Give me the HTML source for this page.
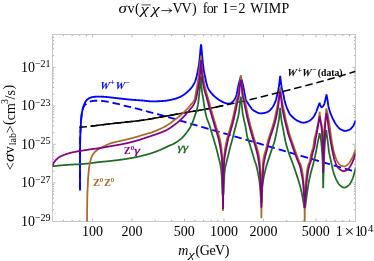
<!DOCTYPE html>
<html><head><meta charset="utf-8"><style>
html,body{margin:0;padding:0;background:#fff;}
body{width:374px;height:261px;overflow:hidden;}
svg{display:block;will-change:transform;font-family:"Liberation Serif",serif;}
</style></head><body>
<svg width="374" height="261" viewBox="0 0 374 261">
<rect width="374" height="261" fill="#fff"/>
<rect x="52.5" y="34.5" width="303.0" height="187.0" fill="none" stroke="#c6c6c6" stroke-width="1"/>
<path d="M92.50 221.0 v-2.4 M92.50 35.0 v2.4 M132.09 221.0 v-2.4 M132.09 35.0 v2.4 M184.41 221.0 v-2.4 M184.41 35.0 v2.4 M224.00 221.0 v-2.4 M224.00 35.0 v2.4 M263.59 221.0 v-2.4 M263.59 35.0 v2.4 M315.91 221.0 v-2.4 M315.91 35.0 v2.4 M53.0 67.30 h2.6 M355.0 67.30 h-2.6 M53.0 105.80 h2.6 M355.0 105.80 h-2.6 M53.0 144.30 h2.6 M355.0 144.30 h-2.6 M53.0 182.80 h2.6 M355.0 182.80 h-2.6" stroke="#aaa" stroke-width="0.8" fill="none"/>
<path d="M63.33 221.0 v-1.1 M63.33 35.0 v1.1 M72.13 221.0 v-1.1 M72.13 35.0 v1.1 M79.76 221.0 v-1.1 M79.76 35.0 v1.1 M86.48 221.0 v-1.1 M86.48 35.0 v1.1 M155.24 221.0 v-1.1 M155.24 35.0 v1.1 M171.67 221.0 v-1.1 M171.67 35.0 v1.1 M194.83 221.0 v-1.1 M194.83 35.0 v1.1 M203.63 221.0 v-1.1 M203.63 35.0 v1.1 M211.26 221.0 v-1.1 M211.26 35.0 v1.1 M217.98 221.0 v-1.1 M217.98 35.0 v1.1 M286.74 221.0 v-1.1 M286.74 35.0 v1.1 M303.17 221.0 v-1.1 M303.17 35.0 v1.1 M326.33 221.0 v-1.1 M326.33 35.0 v1.1 M335.13 221.0 v-1.1 M335.13 35.0 v1.1 M342.76 221.0 v-1.1 M342.76 35.0 v1.1 M349.48 221.0 v-1.1 M349.48 35.0 v1.1 M53.0 55.71 h1.1 M355.0 55.71 h-1.1 M53.0 48.93 h1.1 M355.0 48.93 h-1.1 M53.0 44.12 h1.1 M355.0 44.12 h-1.1 M53.0 40.39 h1.1 M355.0 40.39 h-1.1 M53.0 37.34 h1.1 M355.0 37.34 h-1.1 M53.0 94.21 h1.1 M355.0 94.21 h-1.1 M53.0 87.43 h1.1 M355.0 87.43 h-1.1 M53.0 82.62 h1.1 M355.0 82.62 h-1.1 M53.0 78.89 h1.1 M355.0 78.89 h-1.1 M53.0 75.84 h1.1 M355.0 75.84 h-1.1 M53.0 73.26 h1.1 M355.0 73.26 h-1.1 M53.0 71.03 h1.1 M355.0 71.03 h-1.1 M53.0 69.06 h1.1 M355.0 69.06 h-1.1 M53.0 132.71 h1.1 M355.0 132.71 h-1.1 M53.0 125.93 h1.1 M355.0 125.93 h-1.1 M53.0 121.12 h1.1 M355.0 121.12 h-1.1 M53.0 117.39 h1.1 M355.0 117.39 h-1.1 M53.0 114.34 h1.1 M355.0 114.34 h-1.1 M53.0 111.76 h1.1 M355.0 111.76 h-1.1 M53.0 109.53 h1.1 M355.0 109.53 h-1.1 M53.0 107.56 h1.1 M355.0 107.56 h-1.1 M53.0 171.21 h1.1 M355.0 171.21 h-1.1 M53.0 164.43 h1.1 M355.0 164.43 h-1.1 M53.0 159.62 h1.1 M355.0 159.62 h-1.1 M53.0 155.89 h1.1 M355.0 155.89 h-1.1 M53.0 152.84 h1.1 M355.0 152.84 h-1.1 M53.0 150.26 h1.1 M355.0 150.26 h-1.1 M53.0 148.03 h1.1 M355.0 148.03 h-1.1 M53.0 146.06 h1.1 M355.0 146.06 h-1.1 M53.0 209.71 h1.1 M355.0 209.71 h-1.1 M53.0 202.93 h1.1 M355.0 202.93 h-1.1 M53.0 198.12 h1.1 M355.0 198.12 h-1.1 M53.0 194.39 h1.1 M355.0 194.39 h-1.1 M53.0 191.34 h1.1 M355.0 191.34 h-1.1 M53.0 188.76 h1.1 M355.0 188.76 h-1.1 M53.0 186.53 h1.1 M355.0 186.53 h-1.1 M53.0 184.56 h1.1 M355.0 184.56 h-1.1" stroke="#6a6a6a" stroke-width="0.6" fill="none"/>
<clipPath id="c"><rect x="52.5" y="34.5" width="303.0" height="187.0"/></clipPath>
<g clip-path="url(#c)" fill="none" stroke-linejoin="miter" stroke-miterlimit="3">
<path d="M80.00 190.30 L80.00 189.78 L80.00 189.27 L80.00 188.75 L80.00 188.23 L80.00 187.72 L80.00 187.20 L80.00 186.68 L80.00 186.17 L80.00 185.65 L80.00 185.14 L80.00 184.62 L80.00 184.10 L80.00 183.59 L80.00 183.07 L80.00 182.55 L80.00 182.04 L80.00 181.52 L80.00 181.00 L80.00 180.49 L80.00 179.97 L80.00 179.45 L80.00 178.94 L80.00 178.42 L80.00 177.90 L80.00 177.39 L80.00 176.87 L80.00 176.36 L80.00 175.84 L80.00 175.32 L80.00 174.81 L80.00 174.29 L80.00 173.77 L80.00 173.26 L80.00 172.74 L80.00 172.22 L80.00 171.71 L80.00 171.19 L80.00 170.67 L80.00 170.16 L80.00 169.64 L80.00 169.13 L80.00 168.61 L80.00 168.09 L80.00 167.58 L80.00 167.06 L80.00 166.54 L80.00 166.03 L80.00 165.51 L80.00 164.99 L80.00 164.48 L80.00 163.96 L80.00 163.44 L80.00 162.93 L80.00 162.41 L80.00 161.89 L80.00 161.38 L80.00 160.86 L80.00 160.35 L80.00 159.83 L80.00 159.31 L80.00 158.80 L80.00 158.28 L80.00 157.76 L80.00 157.25 L80.01 156.73 L80.01 156.21 L80.01 155.70 L80.01 155.18 L80.02 154.66 L80.02 154.15 L80.02 153.63 L80.03 153.12 L80.03 152.60 L80.04 152.08 L80.04 151.57 L80.04 151.05 L80.05 150.53 L80.05 150.02 L80.06 149.50 L80.06 148.98 L80.07 148.47 L80.07 147.95 L80.08 147.43 L80.08 146.92 L80.09 146.40 L80.09 145.89 L80.10 145.37 L80.10 144.85 L80.11 144.34 L80.11 143.82 L80.12 143.30 L80.12 142.79 L80.13 142.27 L80.14 141.75 L80.14 141.24 L80.15 140.72 L80.16 140.20 L80.17 139.69 L80.18 139.17 L80.19 138.66 L80.20 138.14 L80.21 137.62 L80.22 137.11 L80.24 136.59 L80.25 136.07 L80.27 135.56 L80.29 135.04 L80.31 134.53 L80.33 134.01 L80.36 133.49 L80.38 132.98 L80.41 132.46 L80.43 131.95 L80.46 131.43 L80.48 130.91 L80.51 130.40 L80.54 129.88 L80.57 129.37 L80.60 128.85 L80.63 128.34 L80.65 127.82 L80.68 127.30 L80.71 126.79 L80.74 126.27 L80.77 125.76 L80.80 125.24 L80.83 124.73 L80.85 124.21 L80.88 123.69 L80.92 123.18 L80.95 122.66 L80.98 122.14 L81.01 121.63 L81.05 121.11 L81.08 120.60 L81.12 120.08 L81.16 119.57 L81.20 119.05 L81.24 118.54 L81.29 118.02 L81.33 117.51 L81.38 117.00 L81.43 116.49 L81.49 115.97 L81.55 115.46 L81.62 114.95 L81.69 114.43 L81.76 113.92 L81.84 113.41 L81.93 112.90 L82.02 112.39 L82.11 111.88 L82.21 111.37 L82.30 110.87 L82.41 110.36 L82.52 109.86 L82.63 109.36 L82.76 108.86 L82.90 108.35 L83.04 107.85 L83.19 107.36 L83.34 106.86 L83.51 106.37 L83.68 105.88 L83.85 105.40 L84.03 104.92 L84.22 104.44 L84.42 103.95 L84.63 103.47 L84.85 102.99 L85.08 102.51 L85.32 102.05 L85.58 101.60 L85.86 101.18 L86.14 100.77 L86.46 100.39 L86.81 100.01 L87.18 99.64 L87.59 99.29 L88.01 98.97 L88.44 98.67 L88.88 98.41 L89.32 98.18 L89.79 97.96 L90.27 97.75 L90.76 97.56 L91.26 97.40 L91.76 97.27 L92.26 97.17 L92.76 97.08 L93.26 96.99 L93.77 96.91 L94.28 96.84 L94.79 96.77 L95.30 96.71 L95.82 96.67 L96.35 96.63 L96.87 96.61 L97.40 96.60 L97.65 96.60 L97.90 96.60 L98.15 96.60 L98.40 96.61 L98.65 96.61 L98.90 96.61 L99.15 96.62 L99.40 96.63 L99.65 96.63 L99.90 96.64 L100.15 96.65 L100.40 96.65 L100.65 96.66 L100.91 96.67 L101.16 96.68 L101.41 96.69 L101.66 96.70 L101.91 96.71 L102.16 96.72 L102.41 96.73 L102.66 96.74 L102.91 96.75 L103.16 96.77 L103.41 96.78 L103.66 96.79 L103.91 96.80 L104.16 96.81 L104.41 96.83 L104.66 96.84 L104.91 96.86 L105.16 96.88 L105.41 96.90 L105.66 96.92 L105.91 96.94 L106.16 96.96 L106.41 96.99 L106.66 97.01 L106.91 97.04 L107.16 97.06 L107.41 97.09 L107.66 97.11 L107.92 97.14 L108.17 97.17 L108.42 97.20 L108.67 97.22 L108.92 97.25 L109.17 97.28 L109.42 97.31 L109.67 97.33 L109.92 97.36 L110.17 97.39 L110.42 97.41 L110.67 97.44 L110.92 97.46 L111.17 97.49 L111.42 97.52 L111.67 97.55 L111.92 97.57 L112.17 97.60 L112.42 97.63 L112.67 97.66 L112.92 97.69 L113.17 97.72 L113.42 97.75 L113.67 97.77 L113.92 97.80 L114.17 97.83 L114.42 97.86 L114.68 97.89 L114.93 97.92 L115.18 97.95 L115.43 97.98 L115.68 98.01 L115.93 98.04 L116.18 98.07 L116.43 98.10 L116.68 98.13 L116.93 98.16 L117.18 98.19 L117.43 98.22 L117.68 98.25 L117.93 98.28 L118.18 98.31 L118.43 98.34 L118.68 98.37 L118.93 98.40 L119.18 98.43 L119.43 98.46 L119.68 98.49 L119.93 98.52 L120.18 98.54 L120.43 98.57 L120.68 98.60 L120.93 98.63 L121.18 98.65 L121.43 98.68 L121.69 98.71 L121.94 98.73 L122.19 98.76 L122.44 98.79 L122.69 98.82 L122.94 98.84 L123.19 98.87 L123.44 98.90 L123.69 98.93 L123.94 98.95 L124.19 98.98 L124.44 99.01 L124.69 99.04 L124.94 99.06 L125.19 99.09 L125.44 99.12 L125.69 99.14 L125.94 99.17 L126.19 99.20 L126.44 99.22 L126.69 99.25 L126.94 99.27 L127.19 99.30 L127.44 99.32 L127.69 99.35 L127.94 99.38 L128.19 99.40 L128.44 99.43 L128.70 99.45 L128.95 99.47 L129.20 99.50 L129.45 99.52 L129.70 99.55 L129.95 99.57 L130.20 99.59 L130.45 99.62 L130.70 99.64 L130.95 99.66 L131.20 99.68 L131.45 99.70 L131.70 99.73 L131.95 99.75 L132.20 99.77 L132.45 99.79 L132.70 99.81 L132.95 99.83 L133.20 99.85 L133.45 99.87 L133.70 99.89 L133.95 99.90 L134.20 99.92 L134.45 99.94 L134.70 99.96 L134.95 99.98 L135.20 100.00 L135.46 100.01 L135.71 100.03 L135.96 100.05 L136.21 100.07 L136.46 100.08 L136.71 100.10 L136.96 100.12 L137.21 100.14 L137.46 100.15 L137.71 100.17 L137.96 100.19 L138.21 100.21 L138.46 100.22 L138.71 100.24 L138.96 100.26 L139.21 100.28 L139.46 100.29 L139.71 100.31 L139.96 100.33 L140.21 100.35 L140.46 100.37 L140.71 100.39 L140.96 100.40 L141.21 100.42 L141.46 100.44 L141.71 100.46 L141.96 100.48 L142.21 100.50 L142.47 100.52 L142.72 100.54 L142.97 100.57 L143.22 100.59 L143.47 100.61 L143.72 100.64 L143.97 100.67 L144.22 100.69 L144.47 100.72 L144.72 100.75 L144.97 100.78 L145.22 100.80 L145.47 100.83 L145.72 100.86 L145.97 100.89 L146.22 100.92 L146.47 100.95 L146.72 100.98 L146.97 101.01 L147.22 101.03 L147.47 101.06 L147.72 101.09 L147.97 101.12 L148.22 101.14 L148.47 101.17 L148.72 101.19 L148.97 101.21 L149.23 101.24 L149.48 101.26 L149.73 101.28 L149.98 101.30 L150.23 101.31 L150.48 101.33 L150.73 101.35 L150.98 101.36 L151.23 101.37 L151.48 101.38 L151.73 101.39 L151.98 101.39 L152.23 101.40 L152.48 101.40 L152.73 101.40 L152.98 101.40 L153.23 101.40 L153.48 101.40 L153.73 101.39 L153.98 101.39 L154.23 101.39 L154.48 101.38 L154.73 101.38 L154.98 101.37 L155.23 101.37 L155.48 101.36 L155.73 101.35 L155.98 101.35 L156.24 101.34 L156.49 101.33 L156.74 101.32 L156.99 101.31 L157.24 101.30 L157.49 101.29 L157.74 101.28 L157.99 101.27 L158.24 101.26 L158.49 101.24 L158.74 101.23 L158.99 101.22 L159.24 101.21 L159.49 101.19 L159.74 101.18 L159.99 101.16 L160.24 101.15 L160.49 101.13 L160.74 101.12 L160.99 101.10 L161.24 101.08 L161.49 101.07 L161.74 101.05 L161.99 101.03 L162.24 101.02 L162.49 101.00 L162.74 100.98 L162.99 100.96 L163.25 100.94 L163.50 100.93 L163.75 100.91 L164.00 100.89 L164.25 100.87 L164.50 100.85 L164.75 100.83 L165.00 100.81 L165.25 100.79 L165.50 100.76 L165.75 100.74 L166.00 100.71 L166.25 100.67 L166.50 100.64 L166.75 100.60 L167.00 100.56 L167.25 100.52 L167.50 100.48 L167.75 100.43 L168.00 100.39 L168.25 100.34 L168.50 100.29 L168.75 100.24 L169.00 100.20 L169.25 100.15 L169.50 100.10 L169.75 100.05 L170.01 100.00 L170.26 99.95 L170.51 99.90 L170.76 99.85 L171.01 99.80 L171.26 99.75 L171.51 99.69 L171.76 99.64 L172.01 99.58 L172.26 99.52 L172.51 99.47 L172.76 99.41 L173.01 99.35 L173.26 99.29 L173.51 99.22 L173.76 99.16 L174.01 99.09 L174.26 99.02 L174.51 98.96 L174.76 98.89 L175.01 98.81 L175.26 98.74 L175.51 98.67 L175.76 98.59 L176.01 98.51 L176.26 98.43 L176.51 98.34 L176.76 98.26 L177.02 98.17 L177.27 98.08 L177.52 97.99 L177.77 97.89 L178.02 97.79 L178.27 97.69 L178.52 97.59 L178.77 97.49 L179.02 97.38 L179.27 97.27 L179.52 97.16 L179.77 97.05 L180.02 96.93 L180.27 96.81 L180.52 96.69 L180.77 96.56 L181.02 96.44 L181.27 96.30 L181.52 96.17 L181.77 96.03 L182.02 95.88 L182.27 95.73 L182.52 95.58 L182.77 95.42 L183.02 95.26 L183.27 95.09 L183.52 94.92 L183.78 94.75 L184.03 94.57 L184.28 94.39 L184.53 94.21 L184.78 94.02 L185.03 93.84 L185.28 93.65 L185.53 93.45 L185.78 93.26 L186.03 93.06 L186.28 92.86 L186.53 92.65 L186.78 92.44 L187.03 92.23 L187.28 92.02 L187.53 91.80 L187.78 91.57 L188.03 91.34 L188.28 91.11 L188.53 90.87 L188.78 90.63 L189.03 90.38 L189.28 90.12 L189.53 89.86 L189.78 89.59 L190.03 89.32 L190.28 89.04 L190.53 88.75 L190.79 88.45 L191.04 88.15 L191.29 87.84 L191.54 87.53 L191.79 87.20 L192.04 86.86 L192.29 86.52 L192.54 86.16 L192.79 85.78 L193.04 85.39 L193.29 84.98 L193.54 84.56 L193.79 84.11 L194.04 83.64 L194.29 83.15 L194.54 82.64 L194.79 82.10 L195.04 81.51 L195.29 80.86 L195.54 80.16 L195.79 79.40 L196.04 78.60 L196.29 77.74 L196.54 76.84 L196.79 75.83 L197.04 74.72 L197.29 73.51 L197.54 72.25 L197.80 70.95 L198.05 69.64 L198.30 68.30 L198.55 66.90 L198.80 65.37 L199.05 63.66 L199.30 61.70 L199.55 59.50 L199.80 57.12 L200.05 54.59 L200.30 51.60 L200.55 48.55 L200.80 46.14 L201.05 44.30 L201.30 46.14 L201.55 48.55 L201.80 51.58 L202.06 54.61 L202.31 57.28 L202.56 59.84 L202.81 62.26 L203.06 64.53 L203.31 66.72 L203.56 68.75 L203.81 70.49 L204.07 71.95 L204.32 73.25 L204.57 74.44 L204.82 75.59 L205.07 76.76 L205.32 77.97 L205.57 79.19 L205.82 80.40 L206.08 81.55 L206.33 82.62 L206.58 83.59 L206.83 84.50 L207.08 85.38 L207.33 86.20 L207.58 86.95 L207.83 87.62 L208.09 88.18 L208.34 88.70 L208.59 89.18 L208.84 89.63 L209.09 90.05 L209.34 90.45 L209.59 90.82 L209.84 91.18 L210.10 91.52 L210.35 91.85 L210.60 92.17 L210.85 92.49 L211.10 92.80 L211.35 93.10 L211.60 93.39 L211.85 93.68 L212.11 93.96 L212.36 94.23 L212.61 94.50 L212.86 94.76 L213.11 95.01 L213.36 95.27 L213.61 95.51 L213.86 95.75 L214.12 95.98 L214.37 96.22 L214.62 96.44 L214.87 96.66 L215.12 96.88 L215.37 97.10 L215.62 97.31 L215.87 97.52 L216.13 97.72 L216.38 97.92 L216.63 98.12 L216.88 98.32 L217.13 98.52 L217.38 98.71 L217.63 98.90 L217.88 99.08 L218.14 99.26 L218.39 99.44 L218.64 99.62 L218.89 99.79 L219.14 99.96 L219.39 100.12 L219.64 100.29 L219.89 100.44 L220.15 100.60 L220.40 100.75 L220.65 100.89 L220.90 101.04 L221.15 101.17 L221.40 101.31 L221.65 101.44 L221.91 101.57 L222.16 101.69 L222.41 101.82 L222.66 101.94 L222.91 102.06 L223.16 102.17 L223.41 102.28 L223.66 102.39 L223.92 102.49 L224.17 102.59 L224.42 102.69 L224.67 102.78 L224.92 102.87 L225.17 102.96 L225.42 103.05 L225.67 103.15 L225.93 103.24 L226.18 103.33 L226.43 103.41 L226.68 103.48 L226.93 103.54 L227.18 103.58 L227.43 103.60 L227.68 103.60 L227.94 103.60 L228.19 103.59 L228.44 103.59 L228.69 103.58 L228.94 103.57 L229.19 103.55 L229.44 103.54 L229.69 103.52 L229.95 103.50 L230.20 103.47 L230.45 103.39 L230.70 103.27 L230.95 103.11 L231.20 102.93 L231.45 102.73 L231.70 102.51 L231.96 102.29 L232.21 102.07 L232.46 101.85 L232.71 101.62 L232.96 101.38 L233.21 101.11 L233.46 100.83 L233.71 100.53 L233.97 100.20 L234.22 99.86 L234.47 99.50 L234.72 99.11 L234.97 98.69 L235.22 98.23 L235.47 97.72 L235.72 97.17 L235.98 96.56 L236.23 95.87 L236.48 95.05 L236.73 94.11 L236.98 93.08 L237.23 91.84 L237.48 90.37 L237.73 88.88 L237.99 87.58 L238.24 86.41 L238.49 85.31 L238.74 84.25 L238.99 83.22 L239.24 82.23 L239.49 81.27 L239.74 80.33 L240.00 79.42 L240.25 78.52 L240.50 77.65 L240.75 76.80 L241.00 77.65 L241.25 78.52 L241.50 79.42 L241.76 80.33 L242.01 81.27 L242.26 82.23 L242.51 83.22 L242.76 84.25 L243.01 85.31 L243.26 86.41 L243.51 87.58 L243.77 88.86 L244.02 90.27 L244.27 91.72 L244.52 93.10 L244.77 94.39 L245.02 95.63 L245.27 96.86 L245.52 98.17 L245.78 99.23 L246.03 99.91 L246.28 100.48 L246.53 100.97 L246.78 101.41 L247.03 101.81 L247.28 102.19 L247.53 102.59 L247.79 103.01 L248.04 103.41 L248.29 103.81 L248.54 104.19 L248.79 104.57 L249.04 104.93 L249.29 105.30 L249.54 105.65 L249.80 106.01 L250.05 106.37 L250.30 106.73 L250.55 107.10 L250.80 107.47 L251.05 107.83 L251.30 108.18 L251.55 108.50 L251.81 108.80 L252.06 109.06 L252.31 109.30 L252.56 109.53 L252.81 109.75 L253.06 109.96 L253.31 110.15 L253.56 110.34 L253.82 110.52 L254.07 110.68 L254.32 110.84 L254.57 110.98 L254.82 111.12 L255.07 111.27 L255.32 111.41 L255.58 111.55 L255.83 111.69 L256.08 111.84 L256.33 111.98 L256.58 112.11 L256.83 112.25 L257.08 112.38 L257.33 112.50 L257.59 112.63 L257.84 112.74 L258.09 112.85 L258.34 112.95 L258.59 113.04 L258.84 113.12 L259.09 113.20 L259.34 113.26 L259.60 113.31 L259.85 113.35 L260.10 113.38 L260.35 113.40 L260.60 113.40 L260.85 113.40 L261.10 113.39 L261.35 113.38 L261.61 113.36 L261.86 113.34 L262.11 113.32 L262.36 113.29 L262.61 113.26 L262.86 113.22 L263.11 113.19 L263.36 113.15 L263.62 113.11 L263.87 113.06 L264.12 113.01 L264.37 112.96 L264.62 112.91 L264.87 112.86 L265.12 112.80 L265.37 112.75 L265.63 112.69 L265.88 112.63 L266.13 112.57 L266.38 112.49 L266.63 112.40 L266.88 112.29 L267.13 112.17 L267.39 112.04 L267.64 111.90 L267.89 111.75 L268.14 111.59 L268.39 111.42 L268.64 111.25 L268.89 111.08 L269.14 110.90 L269.40 110.70 L269.65 110.49 L269.90 110.27 L270.15 110.03 L270.40 109.78 L270.65 109.52 L270.90 109.24 L271.15 108.95 L271.41 108.65 L271.66 108.33 L271.91 108.01 L272.16 107.67 L272.41 107.33 L272.66 106.97 L272.91 106.59 L273.16 106.19 L273.42 105.77 L273.67 105.33 L273.92 104.86 L274.17 104.37 L274.42 103.85 L274.67 103.30 L274.92 102.72 L275.17 102.11 L275.43 101.47 L275.68 100.78 L275.93 100.00 L276.18 99.10 L276.43 98.12 L276.68 97.08 L276.93 96.01 L277.18 94.92 L277.44 93.85 L277.69 92.80 L277.94 91.74 L278.19 90.63 L278.44 89.41 L278.69 88.04 L278.94 86.40 L279.19 84.48 L279.45 82.44 L279.70 80.37 L279.95 78.19 L280.20 75.90 L280.45 78.24 L280.70 80.42 L280.95 82.40 L281.20 84.26 L281.45 85.98 L281.71 87.50 L281.96 88.76 L282.21 89.83 L282.46 90.79 L282.71 91.70 L282.96 92.62 L283.21 93.62 L283.46 94.76 L283.71 96.04 L283.96 97.39 L284.22 98.73 L284.47 99.98 L284.72 101.07 L284.97 102.02 L285.22 102.91 L285.47 103.75 L285.72 104.54 L285.97 105.29 L286.22 106.01 L286.47 106.70 L286.72 107.38 L286.98 108.02 L287.23 108.65 L287.48 109.25 L287.73 109.83 L287.98 110.40 L288.23 110.94 L288.48 111.47 L288.73 112.00 L288.98 112.51 L289.23 113.00 L289.49 113.47 L289.74 113.90 L289.99 114.28 L290.24 114.62 L290.49 114.93 L290.74 115.21 L290.99 115.48 L291.24 115.74 L291.49 115.99 L291.74 116.24 L291.99 116.50 L292.25 116.75 L292.50 116.99 L292.75 117.23 L293.00 117.47 L293.25 117.69 L293.50 117.92 L293.75 118.13 L294.00 118.34 L294.25 118.54 L294.50 118.74 L294.76 118.94 L295.01 119.13 L295.26 119.32 L295.51 119.51 L295.76 119.69 L296.01 119.86 L296.26 120.03 L296.51 120.18 L296.76 120.33 L297.01 120.46 L297.26 120.58 L297.52 120.70 L297.77 120.82 L298.02 120.95 L298.27 121.07 L298.52 121.19 L298.77 121.31 L299.02 121.43 L299.27 121.54 L299.52 121.66 L299.77 121.77 L300.03 121.87 L300.28 121.97 L300.53 122.07 L300.78 122.16 L301.03 122.25 L301.28 122.33 L301.53 122.40 L301.78 122.47 L302.03 122.53 L302.28 122.58 L302.54 122.62 L302.79 122.66 L303.04 122.68 L303.29 122.70 L303.54 122.70 L303.79 122.69 L304.04 122.68 L304.29 122.65 L304.54 122.62 L304.79 122.58 L305.04 122.52 L305.30 122.47 L305.55 122.40 L305.80 122.33 L306.05 122.25 L306.30 122.17 L306.55 122.08 L306.80 121.99 L307.05 121.90 L307.30 121.80 L307.55 121.69 L307.81 121.59 L308.06 121.48 L308.31 121.37 L308.56 121.25 L308.81 121.14 L309.06 121.02 L309.31 120.89 L309.56 120.75 L309.81 120.59 L310.06 120.41 L310.31 120.23 L310.57 120.03 L310.82 119.82 L311.07 119.59 L311.32 119.36 L311.57 119.11 L311.82 118.86 L312.07 118.59 L312.32 118.32 L312.57 118.04 L312.82 117.75 L313.08 117.45 L313.33 117.14 L313.58 116.81 L313.83 116.44 L314.08 116.04 L314.33 115.61 L314.58 115.17 L314.83 114.70 L315.08 114.21 L315.33 113.70 L315.58 113.18 L315.84 112.65 L316.09 112.11 L316.34 111.52 L316.59 110.88 L316.84 110.21 L317.09 109.52 L317.34 108.81 L317.59 108.11 L317.84 107.42 L318.09 106.75 L318.35 106.09 L318.60 105.43 L318.85 104.77 L319.10 104.11 L319.35 103.46 L319.60 102.80 L319.86 103.71 L320.11 104.52 L320.37 105.15 L320.62 105.71 L320.88 106.25 L321.13 106.71 L321.39 107.04 L321.64 107.19 L321.90 107.17 L322.16 107.06 L322.41 106.87 L322.67 106.62 L322.92 106.32 L323.18 105.97 L323.43 105.58 L323.69 105.18 L323.94 104.73 L324.20 104.10 L324.46 103.31 L324.71 102.41 L324.97 101.42 L325.22 100.41 L325.48 99.39 L325.73 98.29 L325.99 97.10 L326.24 95.83 L326.50 94.50 L326.75 95.77 L327.00 97.11 L327.25 98.53 L327.50 100.01 L327.75 101.69 L328.00 103.50 L328.25 105.19 L328.50 106.50 L328.75 107.61 L329.00 108.60 L329.25 109.51 L329.51 110.35 L329.76 111.16 L330.01 111.93 L330.26 112.65 L330.51 113.33 L330.76 113.98 L331.01 114.62 L331.26 115.24 L331.51 115.84 L331.76 116.42 L332.01 116.98 L332.26 117.53 L332.51 118.06 L332.76 118.57 L333.01 119.07 L333.26 119.56 L333.51 120.04 L333.76 120.50 L334.01 120.97 L334.26 121.45 L334.51 121.91 L334.76 122.38 L335.01 122.83 L335.26 123.27 L335.52 123.69 L335.77 124.09 L336.02 124.47 L336.27 124.82 L336.52 125.15 L336.77 125.47 L337.02 125.78 L337.27 126.09 L337.52 126.40 L337.77 126.69 L338.02 126.98 L338.27 127.26 L338.52 127.53 L338.77 127.79 L339.02 128.04 L339.27 128.27 L339.52 128.49 L339.77 128.69 L340.02 128.88 L340.27 129.05 L340.52 129.20 L340.77 129.34 L341.02 129.47 L341.28 129.60 L341.53 129.72 L341.78 129.85 L342.03 129.97 L342.28 130.09 L342.53 130.20 L342.78 130.31 L343.03 130.41 L343.28 130.50 L343.53 130.59 L343.78 130.67 L344.03 130.73 L344.28 130.79 L344.53 130.84 L344.78 130.87 L345.03 130.89 L345.28 130.90 L345.53 130.89 L345.78 130.88 L346.03 130.85 L346.28 130.81 L346.53 130.76 L346.78 130.70 L347.04 130.63 L347.29 130.56 L347.54 130.48 L347.79 130.39 L348.04 130.29 L348.29 130.19 L348.54 130.09 L348.79 129.98 L349.04 129.86 L349.29 129.75 L349.54 129.63 L349.79 129.50 L350.04 129.35 L350.29 129.17 L350.54 128.97 L350.79 128.75 L351.04 128.51 L351.29 128.25 L351.54 127.98 L351.79 127.69 L352.04 127.38 L352.29 127.07 L352.54 126.74 L352.79 126.41 L353.05 126.04 L353.30 125.62 L353.55 125.17 L353.80 124.67 L354.05 124.15 L354.30 123.62 L354.55 123.07 L354.80 122.53 L355.05 122.00 L355.30 121.45 L355.55 120.88 L355.80 120.30" stroke="#0000ff" stroke-width="1.85" />
<path d="M80.00 190.30 L80.00 189.80 L80.00 189.29 L80.00 188.79 L80.00 188.28 L80.00 187.78 L80.00 187.28 L80.00 186.77 L80.00 186.27 L80.00 185.77 L80.00 185.26 L80.00 184.76 L80.00 184.25 L80.00 183.75 L80.00 183.25 L80.00 182.74 L80.00 182.24 L80.00 181.73 L80.00 181.23 L80.00 180.73 L80.00 180.22 L80.00 179.72 L80.00 179.22 L80.00 178.71 L80.00 178.21 L80.00 177.70 L80.00 177.20 L80.00 176.70 L80.00 176.19 L80.00 175.69 L80.00 175.18 L80.00 174.68 L80.00 174.18 L80.00 173.67 L80.00 173.17 L80.00 172.67 L80.00 172.16 L80.00 171.66 L80.00 171.15 L80.00 170.65 L80.00 170.15 L80.00 169.64 L80.00 169.14 L80.00 168.63 L80.00 168.13 L80.00 167.63 L80.00 167.12 L80.00 166.62 L80.00 166.12 L80.00 165.61 L80.00 165.11 L80.00 164.60 L80.00 164.10 L80.00 163.60 L80.00 163.09 L80.00 162.59 L80.00 162.08 L80.00 161.58 L80.00 161.08 L80.00 160.57 L80.00 160.07 L80.00 159.57 L80.00 159.06 L80.00 158.56 L80.00 158.05 L80.00 157.55 L80.01 157.05 L80.01 156.54 L80.01 156.04 L80.01 155.53 L80.02 155.03 L80.02 154.53 L80.02 154.02 L80.02 153.52 L80.03 153.01 L80.03 152.51 L80.04 152.01 L80.04 151.50 L80.04 151.00 L80.05 150.50 L80.05 149.99 L80.06 149.49 L80.06 148.98 L80.07 148.48 L80.07 147.98 L80.08 147.47 L80.08 146.97 L80.09 146.47 L80.09 145.96 L80.10 145.46 L80.10 144.95 L80.11 144.45 L80.11 143.95 L80.12 143.44 L80.12 142.94 L80.13 142.43 L80.13 141.93 L80.14 141.43 L80.15 140.92 L80.16 140.42 L80.16 139.92 L80.17 139.41 L80.18 138.91 L80.19 138.40 L80.20 137.90 L80.21 137.40 L80.23 136.89 L80.24 136.39 L80.26 135.89 L80.28 135.38 L80.30 134.88 L80.32 134.38 L80.34 133.87 L80.36 133.37 L80.39 132.87 L80.41 132.36 L80.44 131.86 L80.46 131.36 L80.49 130.85 L80.52 130.35 L80.54 129.85 L80.57 129.34 L80.60 128.84 L80.63 128.34 L80.65 127.83 L80.68 127.33 L80.71 126.83 L80.74 126.32 L80.76 125.82 L80.79 125.32 L80.82 124.81 L80.85 124.31 L80.88 123.81 L80.91 123.30 L80.94 122.80 L80.97 122.30 L81.00 121.79 L81.03 121.29 L81.07 120.79 L81.10 120.28 L81.14 119.78 L81.18 119.28 L81.22 118.78 L81.26 118.28 L81.31 117.77 L81.35 117.27 L81.40 116.77 L81.46 116.27 L81.51 115.77 L81.58 115.27 L81.64 114.77 L81.72 114.27 L81.79 113.77 L81.87 113.27 L81.96 112.77 L82.05 112.28 L82.15 111.78 L82.25 111.29 L82.36 110.80 L82.47 110.31 L82.59 109.82 L82.72 109.31 L82.86 108.81 L83.01 108.31 L83.18 107.82 L83.36 107.34 L83.55 106.88 L83.76 106.44 L83.98 106.03 L84.24 105.64 L84.56 105.27 L84.92 104.91 L85.31 104.57 L85.72 104.24 L86.13 103.92 L86.55 103.61 L86.95 103.32 L87.36 103.02 L87.78 102.72 L88.21 102.43 L88.65 102.16 L89.09 101.92 L89.55 101.72 L90.01 101.57 L90.48 101.43 L90.96 101.30 L91.45 101.18 L91.95 101.07 L92.46 100.97 L92.96 100.89 L93.47 100.84 L93.97 100.80 L94.47 100.78 L94.97 100.76 L95.47 100.74 L95.98 100.73 L96.48 100.72 L96.99 100.71 L97.49 100.70 L98.00 100.70 L98.25 100.71 L98.50 100.72 L98.75 100.73 L99.00 100.75 L99.25 100.76 L99.50 100.78 L99.75 100.79 L100.00 100.81 L100.25 100.83 L100.50 100.85 L100.75 100.86 L101.00 100.88 L101.25 100.90 L101.50 100.93 L101.75 100.95 L102.00 100.97 L102.25 101.00 L102.50 101.02 L102.75 101.05 L103.00 101.07 L103.25 101.10 L103.50 101.13 L103.75 101.16 L104.00 101.19 L104.25 101.22 L104.50 101.26 L104.75 101.29 L105.00 101.32 L105.25 101.36 L105.50 101.39 L105.75 101.43 L106.00 101.47 L106.25 101.51 L106.50 101.55 L106.75 101.58 L107.00 101.62 L107.25 101.66 L107.50 101.71 L107.75 101.75 L108.00 101.79 L108.25 101.83 L108.50 101.88 L108.75 101.92 L109.00 101.96 L109.25 102.01 L109.50 102.06 L109.75 102.11 L110.00 102.16 L110.25 102.22 L110.50 102.28 L110.75 102.34 L111.00 102.40 L111.25 102.46 L111.50 102.53 L111.75 102.59 L112.00 102.66 L112.25 102.72 L112.50 102.78 L112.75 102.84 L113.00 102.90 L113.25 102.96 L113.50 103.01 L113.75 103.07 L114.00 103.12 L114.25 103.18 L114.50 103.23 L114.75 103.28 L115.00 103.33 L115.25 103.39 L115.50 103.44 L115.75 103.49 L116.00 103.54 L116.25 103.59 L116.50 103.64 L116.75 103.70 L117.00 103.75 L117.25 103.80 L117.50 103.85 L117.75 103.91 L118.00 103.96 L118.25 104.01 L118.50 104.07 L118.75 104.12 L119.00 104.18 L119.25 104.24 L119.50 104.30 L119.75 104.36 L120.00 104.42 L120.25 104.48 L120.50 104.55 L120.75 104.61 L121.00 104.68 L121.25 104.76 L121.50 104.84 L121.75 104.92 L122.00 105.00 L122.25 105.08 L122.50 105.17 L122.75 105.25 L123.00 105.33 L123.25 105.41 L123.50 105.49 L123.75 105.56 L124.00 105.63 L124.25 105.69 L124.50 105.76 L124.75 105.82 L125.00 105.88 L125.25 105.94 L125.50 106.00 L125.75 106.05 L126.00 106.11 L126.25 106.17 L126.50 106.22 L126.75 106.28 L127.00 106.33 L127.25 106.38 L127.50 106.44 L127.75 106.49 L128.00 106.54 L128.25 106.59 L128.50 106.64 L128.75 106.69 L129.00 106.75 L129.25 106.80 L129.50 106.85 L129.75 106.90 L130.00 106.95 L130.25 107.01 L130.50 107.06 L130.75 107.12 L131.00 107.17 L131.25 107.23 L131.50 107.28 L131.75 107.34 L132.00 107.40 L132.25 107.46 L132.50 107.52 L132.75 107.58 L133.00 107.64 L133.25 107.70 L133.50 107.77 L133.75 107.83 L134.00 107.89 L134.25 107.96 L134.50 108.02 L134.75 108.08 L135.00 108.15 L135.25 108.21 L135.50 108.28 L135.75 108.34 L136.00 108.41 L136.25 108.47 L136.50 108.54 L136.75 108.60 L137.00 108.67 L137.25 108.73 L137.50 108.80 L137.75 108.86 L138.00 108.93 L138.25 109.00 L138.50 109.06 L138.75 109.13 L139.00 109.19 L139.25 109.26 L139.50 109.33 L139.75 109.40 L140.00 109.46 L140.25 109.53 L140.50 109.60 L140.75 109.67 L141.00 109.73 L141.25 109.80 L141.50 109.87 L141.75 109.94 L142.00 110.01 L142.25 110.08 L142.50 110.14 L142.75 110.21 L143.00 110.28 L143.25 110.35 L143.50 110.43 L143.75 110.50 L144.00 110.57 L144.25 110.64 L144.50 110.72 L144.75 110.79 L145.00 110.86 L145.25 110.93 L145.50 111.00 L145.75 111.07 L146.00 111.14 L146.25 111.21 L146.50 111.28 L146.75 111.35 L147.00 111.42 L147.25 111.49 L147.50 111.55 L147.75 111.62 L148.00 111.69 L148.25 111.75 L148.50 111.82 L148.75 111.88 L149.00 111.95 L149.25 112.02 L149.50 112.08 L149.75 112.15 L150.00 112.21 L150.25 112.28 L150.50 112.34 L150.75 112.40 L151.00 112.47 L151.25 112.53 L151.50 112.60 L151.75 112.66 L152.00 112.72 L152.25 112.79 L152.50 112.85 L152.75 112.92 L153.00 112.98 L153.25 113.04 L153.50 113.11 L153.75 113.17 L154.00 113.23 L154.25 113.30 L154.50 113.36 L154.75 113.42 L155.00 113.49 L155.25 113.55 L155.50 113.62 L155.75 113.68 L156.00 113.74 L156.25 113.81 L156.50 113.87 L156.75 113.94 L157.00 114.00 L157.25 114.07 L157.50 114.13 L157.75 114.20 L158.00 114.26 L158.25 114.33 L158.50 114.40 L158.75 114.46 L159.00 114.53 L159.25 114.60 L159.50 114.66 L159.75 114.73 L160.00 114.80 L160.25 114.87 L160.50 114.94 L160.75 115.01 L161.00 115.07 L161.25 115.14 L161.50 115.21 L161.75 115.28 L162.00 115.35 L162.25 115.42 L162.50 115.49 L162.75 115.56 L163.00 115.63 L163.25 115.70 L163.50 115.77 L163.75 115.84 L164.00 115.91 L164.25 115.98 L164.50 116.05 L164.75 116.12 L165.00 116.19 L165.25 116.26 L165.50 116.33 L165.75 116.40 L166.00 116.47 L166.25 116.54 L166.50 116.61 L166.75 116.68 L167.00 116.75 L167.25 116.82 L167.50 116.90 L167.75 116.97 L168.00 117.04 L168.25 117.11 L168.50 117.18 L168.75 117.25 L169.00 117.33 L169.25 117.40 L169.50 117.47 L169.75 117.54 L170.00 117.61 L170.25 117.69 L170.50 117.76 L170.75 117.83 L171.00 117.90 L171.25 117.98 L171.50 118.05 L171.75 118.12 L172.00 118.19 L172.25 118.27 L172.50 118.34 L172.75 118.41 L173.00 118.48 L173.25 118.56 L173.50 118.63 L173.75 118.70 L174.00 118.78 L174.25 118.85 L174.50 118.92 L174.75 119.00 L175.00 119.07 L175.25 119.14 L175.50 119.22 L175.75 119.29 L176.00 119.36 L176.25 119.44 L176.50 119.51 L176.75 119.58 L177.00 119.66 L177.25 119.73 L177.50 119.81 L177.75 119.88 L178.00 119.95 L178.25 120.03 L178.50 120.10 L178.75 120.17 L179.00 120.25 L179.25 120.32 L179.50 120.40 L179.75 120.47 L180.00 120.54 L180.25 120.62 L180.50 120.69 L180.75 120.77 L181.00 120.84 L181.25 120.91 L181.50 120.99 L181.75 121.06 L182.00 121.14 L182.25 121.21 L182.50 121.28 L182.75 121.36 L183.00 121.43 L183.25 121.51 L183.50 121.58 L183.75 121.66 L184.00 121.73 L184.25 121.80 L184.50 121.88 L184.75 121.95 L185.00 122.03 L185.25 122.10 L185.50 122.18 L185.75 122.25 L186.00 122.32 L186.25 122.40 L186.50 122.47 L186.75 122.55 L187.00 122.62 L187.25 122.69 L187.50 122.77 L187.75 122.84 L188.00 122.92 L188.25 122.99 L188.50 123.06 L188.75 123.14 L189.00 123.21 L189.25 123.29 L189.50 123.36 L189.75 123.43 L190.00 123.51 L190.25 123.58 L190.50 123.65 L190.75 123.73 L191.00 123.80 L191.25 123.88 L191.50 123.95 L191.75 124.02 L192.00 124.10 L192.25 124.17 L192.50 124.24 L192.75 124.32 L193.00 124.39 L193.25 124.46 L193.50 124.54 L193.75 124.61 L194.00 124.68 L194.25 124.76 L194.50 124.83 L194.75 124.90 L195.00 124.97 L195.25 125.05 L195.50 125.12 L195.75 125.19 L196.00 125.27 L196.25 125.34 L196.50 125.41 L196.75 125.48 L197.00 125.56 L197.25 125.63 L197.50 125.70 L197.75 125.77 L198.00 125.84 L198.25 125.92 L198.50 125.99 L198.75 126.06 L199.00 126.13 L199.25 126.20 L199.50 126.28 L199.75 126.35 L200.00 126.42 L200.25 126.49 L200.50 126.57 L200.75 126.64 L201.00 126.71 L201.25 126.78 L201.50 126.85 L201.75 126.92 L202.00 127.00 L202.25 127.07 L202.50 127.14 L202.75 127.21 L203.00 127.28 L203.25 127.36 L203.50 127.43 L203.75 127.50 L204.00 127.57 L204.25 127.64 L204.50 127.71 L204.75 127.79 L205.00 127.86 L205.25 127.93 L205.50 128.00 L205.75 128.07 L206.00 128.14 L206.25 128.22 L206.50 128.29 L206.75 128.36 L207.00 128.43 L207.25 128.50 L207.50 128.57 L207.75 128.65 L208.00 128.72 L208.25 128.79 L208.50 128.86 L208.75 128.93 L209.00 129.00 L209.25 129.08 L209.50 129.15 L209.75 129.22 L210.00 129.29 L210.25 129.36 L210.50 129.43 L210.75 129.50 L211.00 129.58 L211.25 129.65 L211.50 129.72 L211.75 129.79 L212.00 129.86 L212.25 129.93 L212.50 130.01 L212.75 130.08 L213.00 130.15 L213.25 130.22 L213.50 130.29 L213.75 130.36 L214.00 130.44 L214.25 130.51 L214.50 130.58 L214.75 130.65 L215.00 130.72 L215.25 130.79 L215.50 130.87 L215.75 130.94 L216.00 131.01 L216.25 131.08 L216.50 131.15 L216.75 131.22 L217.00 131.30 L217.25 131.37 L217.50 131.44 L217.75 131.51 L218.00 131.58 L218.25 131.65 L218.50 131.73 L218.75 131.80 L219.00 131.87 L219.25 131.94 L219.50 132.01 L219.75 132.09 L220.00 132.16 L220.25 132.23 L220.50 132.30 L220.75 132.37 L221.00 132.45 L221.25 132.52 L221.50 132.59 L221.75 132.66 L222.00 132.73 L222.25 132.81 L222.50 132.88 L222.75 132.95 L223.00 133.02 L223.25 133.09 L223.50 133.17 L223.75 133.24 L224.00 133.31 L224.25 133.38 L224.50 133.46 L224.75 133.53 L225.00 133.60 L225.25 133.67 L225.50 133.74 L225.75 133.82 L226.00 133.89 L226.25 133.96 L226.50 134.03 L226.75 134.11 L227.00 134.18 L227.25 134.25 L227.50 134.32 L227.75 134.40 L228.00 134.47 L228.25 134.54 L228.50 134.61 L228.75 134.69 L229.00 134.76 L229.25 134.83 L229.50 134.90 L229.75 134.98 L230.00 135.05 L230.25 135.12 L230.50 135.19 L230.75 135.27 L231.00 135.34 L231.25 135.41 L231.50 135.48 L231.75 135.56 L232.00 135.63 L232.25 135.70 L232.50 135.77 L232.75 135.85 L233.00 135.92 L233.25 135.99 L233.50 136.07 L233.75 136.14 L234.00 136.21 L234.25 136.28 L234.50 136.36 L234.75 136.43 L235.00 136.50 L235.25 136.57 L235.50 136.65 L235.75 136.72 L236.00 136.79 L236.25 136.87 L236.50 136.94 L236.75 137.01 L237.00 137.08 L237.25 137.16 L237.50 137.23 L237.75 137.30 L238.00 137.37 L238.25 137.45 L238.50 137.52 L238.75 137.59 L239.00 137.67 L239.25 137.74 L239.50 137.81 L239.75 137.88 L240.00 137.96 L240.25 138.03 L240.50 138.10 L240.75 138.18 L241.00 138.25 L241.25 138.32 L241.50 138.39 L241.75 138.47 L242.00 138.54 L242.25 138.61 L242.50 138.69 L242.75 138.76 L243.00 138.83 L243.25 138.91 L243.50 138.98 L243.75 139.05 L244.00 139.12 L244.25 139.20 L244.50 139.27 L244.75 139.34 L245.00 139.42 L245.25 139.49 L245.50 139.56 L245.75 139.64 L246.00 139.71 L246.25 139.78 L246.50 139.85 L246.75 139.93 L247.00 140.00 L247.25 140.07 L247.50 140.15 L247.75 140.22 L248.00 140.29 L248.25 140.37 L248.50 140.44 L248.75 140.51 L249.00 140.59 L249.25 140.66 L249.50 140.73 L249.75 140.80 L250.00 140.88 L250.25 140.95 L250.50 141.02 L250.75 141.10 L251.00 141.17 L251.25 141.24 L251.50 141.32 L251.75 141.39 L252.00 141.46 L252.25 141.54 L252.50 141.61 L252.75 141.68 L253.00 141.76 L253.25 141.83 L253.50 141.90 L253.75 141.97 L254.00 142.05 L254.25 142.12 L254.50 142.19 L254.75 142.27 L255.00 142.34 L255.25 142.41 L255.50 142.49 L255.75 142.56 L256.00 142.63 L256.25 142.71 L256.50 142.78 L256.75 142.85 L257.00 142.93 L257.25 143.00 L257.50 143.07 L257.75 143.15 L258.00 143.22 L258.25 143.29 L258.50 143.37 L258.75 143.44 L259.00 143.51 L259.25 143.59 L259.50 143.66 L259.75 143.73 L260.00 143.81 L260.25 143.88 L260.50 143.95 L260.75 144.03 L261.00 144.10 L261.25 144.17 L261.50 144.25 L261.75 144.32 L262.00 144.39 L262.25 144.47 L262.50 144.54 L262.75 144.61 L263.00 144.69 L263.25 144.76 L263.50 144.83 L263.75 144.91 L264.00 144.98 L264.25 145.05 L264.50 145.13 L264.75 145.20 L265.00 145.27 L265.25 145.35 L265.50 145.42 L265.75 145.49 L266.00 145.57 L266.25 145.64 L266.50 145.71 L266.75 145.79 L267.00 145.86 L267.25 145.93 L267.50 146.01 L267.75 146.08 L268.00 146.15 L268.25 146.23 L268.50 146.30 L268.75 146.37 L269.00 146.45 L269.25 146.52 L269.50 146.59 L269.75 146.67 L270.00 146.74 L270.25 146.81 L270.50 146.89 L270.75 146.96 L271.00 147.03 L271.25 147.11 L271.50 147.18 L271.75 147.25 L272.00 147.33 L272.25 147.40 L272.50 147.47 L272.75 147.55 L273.00 147.62 L273.25 147.69 L273.50 147.77 L273.75 147.84 L274.00 147.91 L274.25 147.99 L274.50 148.06 L274.75 148.14 L275.00 148.21 L275.25 148.28 L275.50 148.36 L275.75 148.43 L276.00 148.50 L276.25 148.58 L276.50 148.65 L276.75 148.72 L277.00 148.80 L277.25 148.87 L277.50 148.94 L277.75 149.02 L278.00 149.09 L278.25 149.16 L278.50 149.24 L278.75 149.31 L279.00 149.38 L279.25 149.46 L279.50 149.53 L279.75 149.60 L280.00 149.68 L280.25 149.75 L280.50 149.82 L280.75 149.90 L281.00 149.97 L281.25 150.04 L281.50 150.12 L281.75 150.19 L282.00 150.26 L282.25 150.34 L282.50 150.41 L282.75 150.48 L283.00 150.56 L283.25 150.63 L283.50 150.71 L283.75 150.78 L284.00 150.85 L284.25 150.93 L284.50 151.00 L284.75 151.07 L285.00 151.15 L285.25 151.22 L285.50 151.29 L285.75 151.37 L286.00 151.44 L286.25 151.51 L286.50 151.59 L286.75 151.66 L287.00 151.73 L287.25 151.81 L287.50 151.88 L287.75 151.95 L288.00 152.03 L288.25 152.10 L288.50 152.17 L288.75 152.25 L289.00 152.32 L289.25 152.39 L289.50 152.47 L289.75 152.54 L290.00 152.61 L290.25 152.69 L290.50 152.76 L290.75 152.83 L291.00 152.91 L291.25 152.98 L291.50 153.05 L291.75 153.13 L292.00 153.20 L292.25 153.27 L292.50 153.35 L292.75 153.42 L293.00 153.49 L293.25 153.57 L293.50 153.64 L293.75 153.71 L294.00 153.79 L294.25 153.86 L294.50 153.93 L294.75 154.01 L295.00 154.08 L295.25 154.15 L295.50 154.23 L295.75 154.30 L296.00 154.37 L296.25 154.45 L296.50 154.52 L296.75 154.59 L297.00 154.67 L297.25 154.74 L297.50 154.81 L297.75 154.89 L298.00 154.96 L298.25 155.03 L298.50 155.11 L298.75 155.18 L299.00 155.25 L299.25 155.33 L299.50 155.40 L299.75 155.47 L300.00 155.55 L300.25 155.62 L300.50 155.69 L300.75 155.77 L301.00 155.84 L301.25 155.91 L301.50 155.99 L301.75 156.06 L302.00 156.13 L302.25 156.21 L302.50 156.28 L302.75 156.35 L303.00 156.43 L303.25 156.50 L303.50 156.57 L303.75 156.65 L304.00 156.72 L304.25 156.79 L304.50 156.86 L304.75 156.94 L305.00 157.01 L305.25 157.08 L305.50 157.16 L305.75 157.23 L306.00 157.30 L306.25 157.38 L306.50 157.45 L306.75 157.52 L307.00 157.60 L307.25 157.67 L307.50 157.74 L307.75 157.82 L308.00 157.89 L308.25 157.96 L308.50 158.04 L308.75 158.11 L309.00 158.18 L309.25 158.25 L309.50 158.33 L309.75 158.40 L310.00 158.47 L310.25 158.55 L310.50 158.62 L310.75 158.69 L311.00 158.77 L311.25 158.84 L311.50 158.91 L311.75 158.98 L312.00 159.06 L312.25 159.13 L312.50 159.20 L312.75 159.28 L313.00 159.35 L313.25 159.42 L313.50 159.50 L313.75 159.57 L314.00 159.64 L314.25 159.71 L314.50 159.79 L314.75 159.86 L315.00 159.93 L315.25 160.01 L315.50 160.08 L315.75 160.15 L316.00 160.23 L316.25 160.30 L316.50 160.37 L316.75 160.44 L317.00 160.52 L317.25 160.59 L317.50 160.66 L317.75 160.74 L318.00 160.81 L318.25 160.88 L318.50 160.95 L318.75 161.03 L319.00 161.10 L319.25 161.17 L319.50 161.25 L319.75 161.32 L320.00 161.39 L320.25 161.46 L320.50 161.54 L320.75 161.61 L321.00 161.68 L321.25 161.76 L321.50 161.83 L321.75 161.90 L322.00 161.97 L322.25 162.05 L322.50 162.12 L322.75 162.19 L323.00 162.26 L323.25 162.34 L323.50 162.41 L323.75 162.48 L324.00 162.56 L324.25 162.63 L324.50 162.70 L324.75 162.77 L325.00 162.85 L325.25 162.92 L325.50 162.99 L325.75 163.06 L326.00 163.14 L326.25 163.21 L326.50 163.28 L326.75 163.36 L327.00 163.43 L327.25 163.50 L327.50 163.57 L327.75 163.65 L328.00 163.72 L328.25 163.79 L328.50 163.86 L328.75 163.94 L329.00 164.01 L329.25 164.08 L329.50 164.16 L329.75 164.23 L330.00 164.30 L330.25 164.37 L330.50 164.45 L330.75 164.52 L331.00 164.59 L331.25 164.66 L331.50 164.74 L331.75 164.81 L332.00 164.88 L332.25 164.95 L332.50 165.03 L332.75 165.10 L333.00 165.17 L333.25 165.25 L333.50 165.32 L333.75 165.39 L334.00 165.46 L334.25 165.54 L334.50 165.61 L334.75 165.68 L335.00 165.75 L335.25 165.83 L335.50 165.90 L335.75 165.97 L336.00 166.04 L336.25 166.12 L336.50 166.19 L336.75 166.26 L337.00 166.33 L337.25 166.41 L337.50 166.48 L337.75 166.55 L338.00 166.62 L338.25 166.70 L338.50 166.77 L338.75 166.84 L339.00 166.91 L339.25 166.99 L339.50 167.06 L339.75 167.13 L340.00 167.21 L340.25 167.28 L340.50 167.35 L340.75 167.42 L341.00 167.50 L341.25 167.57 L341.50 167.64 L341.75 167.71 L342.00 167.79 L342.25 167.86 L342.50 167.93 L342.75 168.00 L343.00 168.08 L343.25 168.15 L343.50 168.22 L343.75 168.29 L344.00 168.37 L344.25 168.44 L344.50 168.51 L344.75 168.58 L345.00 168.66 L345.25 168.73 L345.50 168.80 L345.75 168.87 L346.00 168.95 L346.25 169.02 L346.50 169.09 L346.75 169.16 L347.00 169.24 L347.25 169.31 L347.50 169.38 L347.75 169.45 L348.00 169.53 L348.25 169.60 L348.50 169.67 L348.75 169.74 L349.00 169.82 L349.25 169.89 L349.50 169.96 L349.75 170.03 L350.00 170.11 L350.25 170.18 L350.50 170.25 L350.75 170.32 L351.00 170.40 L351.25 170.47 L351.50 170.54 L351.75 170.61 L352.00 170.69 L352.25 170.76 L352.50 170.83 L352.75 170.90 L353.00 170.98 L353.25 171.05 L353.50 171.12 L353.75 171.19 L354.00 171.27 L354.25 171.34 L354.50 171.41 L354.75 171.48 L355.00 171.56 L355.25 171.63 L355.50 171.70" stroke="#0000ff" stroke-width="1.85" stroke-dasharray="7.6 3.9"/>
<path d="M79.40 127.40 L79.65 127.37 L79.90 127.35 L80.15 127.32 L80.40 127.30 L80.65 127.27 L80.90 127.24 L81.15 127.22 L81.40 127.19 L81.65 127.17 L81.90 127.14 L82.15 127.11 L82.40 127.09 L82.65 127.06 L82.90 127.04 L83.15 127.01 L83.40 126.98 L83.65 126.96 L83.90 126.93 L84.15 126.90 L84.40 126.88 L84.65 126.85 L84.90 126.82 L85.15 126.80 L85.40 126.77 L85.65 126.74 L85.90 126.72 L86.15 126.69 L86.41 126.66 L86.66 126.63 L86.91 126.61 L87.16 126.58 L87.41 126.55 L87.66 126.53 L87.91 126.50 L88.16 126.47 L88.41 126.44 L88.66 126.42 L88.91 126.39 L89.16 126.36 L89.41 126.33 L89.66 126.31 L89.91 126.28 L90.16 126.25 L90.41 126.22 L90.66 126.19 L90.91 126.17 L91.16 126.14 L91.41 126.11 L91.66 126.08 L91.91 126.05 L92.16 126.02 L92.41 125.99 L92.66 125.97 L92.91 125.94 L93.16 125.91 L93.41 125.88 L93.66 125.85 L93.91 125.82 L94.16 125.79 L94.41 125.76 L94.66 125.73 L94.91 125.70 L95.16 125.67 L95.41 125.64 L95.66 125.61 L95.91 125.58 L96.16 125.55 L96.41 125.53 L96.66 125.50 L96.91 125.47 L97.16 125.44 L97.41 125.41 L97.66 125.38 L97.91 125.35 L98.16 125.32 L98.41 125.29 L98.66 125.25 L98.91 125.22 L99.16 125.19 L99.41 125.16 L99.66 125.13 L99.91 125.10 L100.17 125.07 L100.42 125.04 L100.67 125.01 L100.92 124.98 L101.17 124.95 L101.42 124.92 L101.67 124.89 L101.92 124.86 L102.17 124.83 L102.42 124.80 L102.67 124.77 L102.92 124.74 L103.17 124.71 L103.42 124.68 L103.67 124.64 L103.92 124.61 L104.17 124.58 L104.42 124.55 L104.67 124.52 L104.92 124.49 L105.17 124.46 L105.42 124.43 L105.67 124.40 L105.92 124.37 L106.17 124.34 L106.42 124.31 L106.67 124.28 L106.92 124.25 L107.17 124.22 L107.42 124.19 L107.67 124.16 L107.92 124.13 L108.17 124.10 L108.42 124.06 L108.67 124.03 L108.92 124.00 L109.17 123.97 L109.42 123.94 L109.67 123.91 L109.92 123.88 L110.17 123.85 L110.42 123.82 L110.67 123.79 L110.92 123.76 L111.17 123.73 L111.42 123.70 L111.67 123.67 L111.92 123.64 L112.17 123.61 L112.42 123.59 L112.67 123.56 L112.92 123.53 L113.17 123.50 L113.42 123.47 L113.67 123.44 L113.93 123.41 L114.18 123.38 L114.43 123.35 L114.68 123.32 L114.93 123.29 L115.18 123.26 L115.43 123.24 L115.68 123.21 L115.93 123.18 L116.18 123.15 L116.43 123.12 L116.68 123.10 L116.93 123.07 L117.18 123.04 L117.43 123.01 L117.68 122.98 L117.93 122.96 L118.18 122.93 L118.43 122.90 L118.68 122.88 L118.93 122.85 L119.18 122.82 L119.43 122.79 L119.68 122.77 L119.93 122.74 L120.18 122.71 L120.43 122.69 L120.68 122.66 L120.93 122.64 L121.18 122.61 L121.43 122.58 L121.68 122.56 L121.93 122.53 L122.18 122.50 L122.43 122.48 L122.68 122.45 L122.93 122.42 L123.18 122.40 L123.43 122.37 L123.68 122.35 L123.93 122.32 L124.18 122.29 L124.43 122.27 L124.68 122.24 L124.93 122.22 L125.18 122.19 L125.43 122.16 L125.68 122.14 L125.93 122.11 L126.18 122.09 L126.43 122.06 L126.68 122.03 L126.93 122.01 L127.18 121.98 L127.43 121.95 L127.68 121.93 L127.94 121.90 L128.19 121.88 L128.44 121.85 L128.69 121.82 L128.94 121.80 L129.19 121.77 L129.44 121.74 L129.69 121.72 L129.94 121.69 L130.19 121.66 L130.44 121.64 L130.69 121.61 L130.94 121.58 L131.19 121.56 L131.44 121.53 L131.69 121.50 L131.94 121.48 L132.19 121.45 L132.44 121.42 L132.69 121.39 L132.94 121.37 L133.19 121.34 L133.44 121.31 L133.69 121.28 L133.94 121.25 L134.19 121.23 L134.44 121.20 L134.69 121.17 L134.94 121.14 L135.19 121.11 L135.44 121.08 L135.69 121.05 L135.94 121.03 L136.19 121.00 L136.44 120.97 L136.69 120.94 L136.94 120.91 L137.19 120.88 L137.44 120.85 L137.69 120.82 L137.94 120.79 L138.19 120.76 L138.44 120.73 L138.69 120.70 L138.94 120.67 L139.19 120.64 L139.44 120.60 L139.69 120.57 L139.94 120.54 L140.19 120.51 L140.44 120.48 L140.69 120.45 L140.94 120.41 L141.19 120.38 L141.44 120.35 L141.70 120.31 L141.95 120.28 L142.20 120.25 L142.45 120.21 L142.70 120.18 L142.95 120.15 L143.20 120.11 L143.45 120.08 L143.70 120.04 L143.95 120.01 L144.20 119.97 L144.45 119.94 L144.70 119.90 L144.95 119.86 L145.20 119.83 L145.45 119.79 L145.70 119.75 L145.95 119.71 L146.20 119.67 L146.45 119.63 L146.70 119.59 L146.95 119.55 L147.20 119.51 L147.45 119.47 L147.70 119.43 L147.95 119.39 L148.20 119.35 L148.45 119.30 L148.70 119.26 L148.95 119.22 L149.20 119.17 L149.45 119.13 L149.70 119.09 L149.95 119.04 L150.20 119.00 L150.45 118.95 L150.70 118.91 L150.95 118.86 L151.20 118.82 L151.45 118.77 L151.70 118.73 L151.95 118.68 L152.20 118.64 L152.45 118.59 L152.70 118.54 L152.95 118.50 L153.20 118.45 L153.45 118.41 L153.70 118.36 L153.95 118.31 L154.20 118.27 L154.45 118.22 L154.70 118.17 L154.95 118.13 L155.20 118.08 L155.46 118.03 L155.71 117.99 L155.96 117.94 L156.21 117.89 L156.46 117.85 L156.71 117.80 L156.96 117.75 L157.21 117.71 L157.46 117.66 L157.71 117.61 L157.96 117.57 L158.21 117.52 L158.46 117.48 L158.71 117.43 L158.96 117.39 L159.21 117.34 L159.46 117.30 L159.71 117.25 L159.96 117.21 L160.21 117.16 L160.46 117.12 L160.71 117.07 L160.96 117.03 L161.21 116.98 L161.46 116.94 L161.71 116.90 L161.96 116.85 L162.21 116.81 L162.46 116.76 L162.71 116.72 L162.96 116.67 L163.21 116.63 L163.46 116.58 L163.71 116.54 L163.96 116.49 L164.21 116.44 L164.46 116.40 L164.71 116.35 L164.96 116.31 L165.21 116.26 L165.46 116.22 L165.71 116.17 L165.96 116.13 L166.21 116.08 L166.46 116.03 L166.71 115.99 L166.96 115.94 L167.21 115.90 L167.46 115.85 L167.71 115.81 L167.96 115.76 L168.21 115.71 L168.46 115.67 L168.71 115.62 L168.96 115.58 L169.22 115.53 L169.47 115.48 L169.72 115.44 L169.97 115.39 L170.22 115.35 L170.47 115.30 L170.72 115.25 L170.97 115.21 L171.22 115.16 L171.47 115.12 L171.72 115.07 L171.97 115.02 L172.22 114.98 L172.47 114.93 L172.72 114.88 L172.97 114.84 L173.22 114.79 L173.47 114.75 L173.72 114.70 L173.97 114.65 L174.22 114.61 L174.47 114.56 L174.72 114.52 L174.97 114.47 L175.22 114.42 L175.47 114.38 L175.72 114.33 L175.97 114.29 L176.22 114.24 L176.47 114.19 L176.72 114.15 L176.97 114.10 L177.22 114.06 L177.47 114.01 L177.72 113.97 L177.97 113.92 L178.22 113.87 L178.47 113.83 L178.72 113.78 L178.97 113.74 L179.22 113.69 L179.47 113.65 L179.72 113.60 L179.97 113.56 L180.22 113.51 L180.47 113.47 L180.72 113.42 L180.97 113.38 L181.22 113.33 L181.47 113.29 L181.72 113.24 L181.97 113.20 L182.22 113.15 L182.47 113.11 L182.72 113.06 L182.98 113.02 L183.23 112.97 L183.48 112.93 L183.73 112.88 L183.98 112.84 L184.23 112.80 L184.48 112.75 L184.73 112.71 L184.98 112.66 L185.23 112.62 L185.48 112.58 L185.73 112.53 L185.98 112.49 L186.23 112.44 L186.48 112.40 L186.73 112.36 L186.98 112.31 L187.23 112.27 L187.48 112.23 L187.73 112.19 L187.98 112.14 L188.23 112.10 L188.48 112.06 L188.73 112.01 L188.98 111.97 L189.23 111.93 L189.48 111.89 L189.73 111.85 L189.98 111.80 L190.23 111.76 L190.48 111.72 L190.73 111.68 L190.98 111.64 L191.23 111.60 L191.48 111.56 L191.73 111.52 L191.98 111.48 L192.23 111.44 L192.48 111.40 L192.73 111.36 L192.98 111.32 L193.23 111.28 L193.48 111.24 L193.73 111.20 L193.98 111.17 L194.23 111.13 L194.48 111.09 L194.73 111.05 L194.98 111.01 L195.23 110.97 L195.48 110.93 L195.73 110.90 L195.98 110.86 L196.23 110.82 L196.48 110.78 L196.73 110.74 L196.99 110.70 L197.24 110.66 L197.49 110.62 L197.74 110.58 L197.99 110.54 L198.24 110.50 L198.49 110.46 L198.74 110.42 L198.99 110.37 L199.24 110.33 L199.49 110.29 L199.74 110.25 L199.99 110.20 L200.24 110.16 L200.49 110.11 L200.74 110.07 L200.99 110.02 L201.24 109.98 L201.49 109.93 L201.74 109.89 L201.99 109.84 L202.24 109.80 L202.49 109.75 L202.74 109.71 L202.99 109.66 L203.24 109.61 L203.49 109.57 L203.74 109.52 L203.99 109.47 L204.24 109.42 L204.49 109.38 L204.74 109.33 L204.99 109.28 L205.24 109.23 L205.49 109.19 L205.74 109.14 L205.99 109.09 L206.24 109.04 L206.49 108.99 L206.74 108.94 L206.99 108.89 L207.24 108.84 L207.49 108.79 L207.74 108.75 L207.99 108.70 L208.24 108.65 L208.49 108.60 L208.74 108.55 L208.99 108.50 L209.24 108.45 L209.49 108.39 L209.74 108.34 L209.99 108.29 L210.24 108.24 L210.49 108.19 L210.75 108.14 L211.00 108.09 L211.25 108.04 L211.50 107.99 L211.75 107.94 L212.00 107.88 L212.25 107.83 L212.50 107.78 L212.75 107.73 L213.00 107.68 L213.25 107.63 L213.50 107.57 L213.75 107.52 L214.00 107.47 L214.25 107.42 L214.50 107.37 L214.75 107.31 L215.00 107.26 L215.25 107.21 L215.50 107.16 L215.75 107.10 L216.00 107.05 L216.25 107.00 L216.50 106.95 L216.75 106.89 L217.00 106.84 L217.25 106.79 L217.50 106.74 L217.75 106.68 L218.00 106.63 L218.25 106.58 L218.50 106.53 L218.75 106.47 L219.00 106.42 L219.25 106.37 L219.50 106.31 L219.75 106.26 L220.00 106.21 L220.25 106.16 L220.50 106.10 L220.75 106.05 L221.00 106.00 L221.25 105.95 L221.50 105.89 L221.75 105.84 L222.00 105.79 L222.25 105.74 L222.50 105.68 L222.75 105.63 L223.00 105.58 L223.25 105.53 L223.50 105.47 L223.75 105.42 L224.00 105.37 L224.25 105.32 L224.51 105.26 L224.76 105.21 L225.01 105.16 L225.26 105.11 L225.51 105.05 L225.76 105.00 L226.01 104.95 L226.26 104.89 L226.51 104.84 L226.76 104.79 L227.01 104.74 L227.26 104.68 L227.51 104.63 L227.76 104.58 L228.01 104.52 L228.26 104.47 L228.51 104.42 L228.76 104.36 L229.01 104.31 L229.26 104.26 L229.51 104.20 L229.76 104.15 L230.01 104.10 L230.26 104.04 L230.51 103.99 L230.76 103.94 L231.01 103.88 L231.26 103.83 L231.51 103.78 L231.76 103.72 L232.01 103.67 L232.26 103.62 L232.51 103.56 L232.76 103.51 L233.01 103.45 L233.26 103.40 L233.51 103.35 L233.76 103.29 L234.01 103.24 L234.26 103.18 L234.51 103.13 L234.76 103.07 L235.01 103.02 L235.26 102.97 L235.51 102.91 L235.76 102.86 L236.01 102.80 L236.26 102.75 L236.51 102.69 L236.76 102.64 L237.01 102.58 L237.26 102.53 L237.51 102.47 L237.76 102.42 L238.01 102.36 L238.27 102.31 L238.52 102.25 L238.77 102.20 L239.02 102.14 L239.27 102.09 L239.52 102.03 L239.77 101.97 L240.02 101.92 L240.27 101.86 L240.52 101.81 L240.77 101.75 L241.02 101.70 L241.27 101.64 L241.52 101.58 L241.77 101.53 L242.02 101.47 L242.27 101.42 L242.52 101.36 L242.77 101.30 L243.02 101.25 L243.27 101.19 L243.52 101.13 L243.77 101.08 L244.02 101.02 L244.27 100.96 L244.52 100.91 L244.77 100.85 L245.02 100.79 L245.27 100.74 L245.52 100.68 L245.77 100.62 L246.02 100.56 L246.27 100.51 L246.52 100.45 L246.77 100.39 L247.02 100.33 L247.27 100.28 L247.52 100.22 L247.77 100.16 L248.02 100.10 L248.27 100.04 L248.52 99.99 L248.77 99.93 L249.02 99.87 L249.27 99.81 L249.52 99.75 L249.77 99.69 L250.02 99.63 L250.27 99.58 L250.52 99.52 L250.77 99.46 L251.02 99.40 L251.27 99.34 L251.52 99.28 L251.77 99.22 L252.03 99.16 L252.28 99.10 L252.53 99.04 L252.78 98.98 L253.03 98.92 L253.28 98.86 L253.53 98.80 L253.78 98.74 L254.03 98.68 L254.28 98.62 L254.53 98.56 L254.78 98.50 L255.03 98.44 L255.28 98.38 L255.53 98.32 L255.78 98.26 L256.03 98.20 L256.28 98.14 L256.53 98.08 L256.78 98.02 L257.03 97.96 L257.28 97.90 L257.53 97.84 L257.78 97.77 L258.03 97.71 L258.28 97.65 L258.53 97.59 L258.78 97.53 L259.03 97.47 L259.28 97.41 L259.53 97.34 L259.78 97.28 L260.03 97.22 L260.28 97.16 L260.53 97.10 L260.78 97.04 L261.03 96.97 L261.28 96.91 L261.53 96.85 L261.78 96.79 L262.03 96.73 L262.28 96.66 L262.53 96.60 L262.78 96.54 L263.03 96.48 L263.28 96.42 L263.53 96.35 L263.78 96.29 L264.03 96.23 L264.28 96.17 L264.53 96.10 L264.78 96.04 L265.03 95.98 L265.28 95.92 L265.53 95.85 L265.78 95.79 L266.04 95.73 L266.29 95.66 L266.54 95.60 L266.79 95.54 L267.04 95.48 L267.29 95.41 L267.54 95.35 L267.79 95.29 L268.04 95.22 L268.29 95.16 L268.54 95.10 L268.79 95.04 L269.04 94.97 L269.29 94.91 L269.54 94.85 L269.79 94.78 L270.04 94.72 L270.29 94.66 L270.54 94.59 L270.79 94.53 L271.04 94.47 L271.29 94.40 L271.54 94.34 L271.79 94.28 L272.04 94.21 L272.29 94.15 L272.54 94.09 L272.79 94.02 L273.04 93.96 L273.29 93.90 L273.54 93.83 L273.79 93.77 L274.04 93.71 L274.29 93.64 L274.54 93.58 L274.79 93.52 L275.04 93.45 L275.29 93.39 L275.54 93.33 L275.79 93.26 L276.04 93.20 L276.29 93.14 L276.54 93.07 L276.79 93.01 L277.04 92.95 L277.29 92.88 L277.54 92.82 L277.79 92.76 L278.04 92.69 L278.29 92.63 L278.54 92.57 L278.79 92.50 L279.04 92.44 L279.29 92.38 L279.54 92.31 L279.80 92.25 L280.05 92.19 L280.30 92.13 L280.55 92.06 L280.80 92.00 L281.05 91.94 L281.30 91.87 L281.55 91.81 L281.80 91.75 L282.05 91.68 L282.30 91.62 L282.55 91.56 L282.80 91.49 L283.05 91.43 L283.30 91.37 L283.55 91.30 L283.80 91.24 L284.05 91.18 L284.30 91.12 L284.55 91.05 L284.80 90.99 L285.05 90.93 L285.30 90.86 L285.55 90.80 L285.80 90.74 L286.05 90.67 L286.30 90.61 L286.55 90.55 L286.80 90.49 L287.05 90.42 L287.30 90.36 L287.55 90.30 L287.80 90.23 L288.05 90.17 L288.30 90.11 L288.55 90.04 L288.80 89.98 L289.05 89.92 L289.30 89.85 L289.55 89.79 L289.80 89.73 L290.05 89.66 L290.30 89.60 L290.55 89.54 L290.80 89.48 L291.05 89.41 L291.30 89.35 L291.55 89.29 L291.80 89.22 L292.05 89.16 L292.30 89.10 L292.55 89.03 L292.80 88.97 L293.05 88.91 L293.30 88.84 L293.56 88.78 L293.81 88.72 L294.06 88.65 L294.31 88.59 L294.56 88.52 L294.81 88.46 L295.06 88.40 L295.31 88.33 L295.56 88.27 L295.81 88.21 L296.06 88.14 L296.31 88.08 L296.56 88.02 L296.81 87.95 L297.06 87.89 L297.31 87.82 L297.56 87.76 L297.81 87.70 L298.06 87.63 L298.31 87.57 L298.56 87.51 L298.81 87.44 L299.06 87.38 L299.31 87.31 L299.56 87.25 L299.81 87.18 L300.06 87.12 L300.31 87.06 L300.56 86.99 L300.81 86.93 L301.06 86.86 L301.31 86.80 L301.56 86.73 L301.81 86.67 L302.06 86.61 L302.31 86.54 L302.56 86.48 L302.81 86.41 L303.06 86.35 L303.31 86.28 L303.56 86.22 L303.81 86.15 L304.06 86.09 L304.31 86.02 L304.56 85.96 L304.81 85.89 L305.06 85.83 L305.31 85.76 L305.56 85.70 L305.81 85.63 L306.06 85.57 L306.31 85.50 L306.56 85.44 L306.81 85.37 L307.06 85.31 L307.32 85.24 L307.57 85.17 L307.82 85.11 L308.07 85.04 L308.32 84.98 L308.57 84.91 L308.82 84.84 L309.07 84.78 L309.32 84.71 L309.57 84.65 L309.82 84.58 L310.07 84.51 L310.32 84.45 L310.57 84.38 L310.82 84.31 L311.07 84.25 L311.32 84.18 L311.57 84.12 L311.82 84.05 L312.07 83.98 L312.32 83.91 L312.57 83.85 L312.82 83.78 L313.07 83.71 L313.32 83.65 L313.57 83.58 L313.82 83.51 L314.07 83.44 L314.32 83.38 L314.57 83.31 L314.82 83.24 L315.07 83.17 L315.32 83.11 L315.57 83.04 L315.82 82.97 L316.07 82.90 L316.32 82.83 L316.57 82.77 L316.82 82.70 L317.07 82.63 L317.32 82.56 L317.57 82.49 L317.82 82.42 L318.07 82.36 L318.32 82.29 L318.57 82.22 L318.82 82.15 L319.07 82.08 L319.32 82.01 L319.57 81.94 L319.82 81.87 L320.07 81.80 L320.32 81.73 L320.57 81.66 L320.82 81.59 L321.08 81.52 L321.33 81.46 L321.58 81.39 L321.83 81.32 L322.08 81.25 L322.33 81.18 L322.58 81.11 L322.83 81.04 L323.08 80.97 L323.33 80.90 L323.58 80.82 L323.83 80.75 L324.08 80.68 L324.33 80.61 L324.58 80.54 L324.83 80.47 L325.08 80.40 L325.33 80.33 L325.58 80.26 L325.83 80.19 L326.08 80.12 L326.33 80.05 L326.58 79.98 L326.83 79.90 L327.08 79.83 L327.33 79.76 L327.58 79.69 L327.83 79.62 L328.08 79.55 L328.33 79.48 L328.58 79.40 L328.83 79.33 L329.08 79.26 L329.33 79.19 L329.58 79.12 L329.83 79.05 L330.08 78.97 L330.33 78.90 L330.58 78.83 L330.83 78.76 L331.08 78.68 L331.33 78.61 L331.58 78.54 L331.83 78.47 L332.08 78.39 L332.33 78.32 L332.58 78.25 L332.83 78.18 L333.08 78.10 L333.33 78.03 L333.58 77.96 L333.83 77.89 L334.08 77.81 L334.33 77.74 L334.58 77.67 L334.83 77.59 L335.09 77.52 L335.34 77.45 L335.59 77.37 L335.84 77.30 L336.09 77.23 L336.34 77.15 L336.59 77.08 L336.84 77.00 L337.09 76.93 L337.34 76.86 L337.59 76.78 L337.84 76.71 L338.09 76.63 L338.34 76.56 L338.59 76.49 L338.84 76.41 L339.09 76.34 L339.34 76.26 L339.59 76.19 L339.84 76.11 L340.09 76.04 L340.34 75.96 L340.59 75.89 L340.84 75.82 L341.09 75.74 L341.34 75.67 L341.59 75.59 L341.84 75.52 L342.09 75.44 L342.34 75.37 L342.59 75.29 L342.84 75.21 L343.09 75.14 L343.34 75.06 L343.59 74.99 L343.84 74.91 L344.09 74.84 L344.34 74.76 L344.59 74.69 L344.84 74.61 L345.09 74.53 L345.34 74.46 L345.59 74.38 L345.84 74.31 L346.09 74.23 L346.34 74.16 L346.59 74.08 L346.84 74.00 L347.09 73.93 L347.34 73.85 L347.59 73.77 L347.84 73.70 L348.09 73.62 L348.34 73.54 L348.59 73.47 L348.85 73.39 L349.10 73.31 L349.35 73.24 L349.60 73.16 L349.85 73.08 L350.10 73.01 L350.35 72.93 L350.60 72.85 L350.85 72.78 L351.10 72.70 L351.35 72.62 L351.60 72.54 L351.85 72.47 L352.10 72.39 L352.35 72.31 L352.60 72.23 L352.85 72.16 L353.10 72.08 L353.35 72.00 L353.60 71.92 L353.85 71.85 L354.10 71.77 L354.35 71.69 L354.60 71.61 L354.85 71.53 L355.10 71.46 L355.35 71.38 L355.60 71.30" stroke="#000000" stroke-width="1.5" stroke-dasharray="7.6 3.9"/>
<path d="M90.60 126.20 L90.85 126.17 L91.10 126.14 L91.35 126.11 L91.60 126.08 L91.85 126.05 L92.10 126.02 L92.35 125.99 L92.60 125.96 L92.85 125.92 L93.10 125.89 L93.35 125.86 L93.60 125.83 L93.85 125.80 L94.11 125.77 L94.36 125.74 L94.61 125.71 L94.86 125.68 L95.11 125.65 L95.36 125.62 L95.61 125.59 L95.86 125.56 L96.11 125.53 L96.36 125.50 L96.61 125.47 L96.86 125.44 L97.11 125.41 L97.36 125.38 L97.61 125.35 L97.86 125.32 L98.11 125.29 L98.36 125.26 L98.61 125.23 L98.86 125.20 L99.11 125.17 L99.36 125.14 L99.61 125.11 L99.86 125.08 L100.11 125.05 L100.36 125.01 L100.62 124.98 L100.87 124.95 L101.12 124.92 L101.37 124.89 L101.62 124.86 L101.87 124.83 L102.12 124.80 L102.37 124.77 L102.62 124.74 L102.87 124.71 L103.12 124.68 L103.37 124.65 L103.62 124.62 L103.87 124.60 L104.12 124.57 L104.37 124.54 L104.62 124.51 L104.87 124.48 L105.12 124.45 L105.37 124.42 L105.62 124.39 L105.87 124.36 L106.12 124.33 L106.37 124.30 L106.62 124.27 L106.87 124.24 L107.12 124.21 L107.38 124.18 L107.63 124.15 L107.88 124.12 L108.13 124.09 L108.38 124.06 L108.63 124.03 L108.88 124.00 L109.13 123.97 L109.38 123.94 L109.63 123.91 L109.88 123.88 L110.13 123.85 L110.38 123.82 L110.63 123.79 L110.88 123.76 L111.13 123.74 L111.38 123.71 L111.63 123.68 L111.88 123.65 L112.13 123.62 L112.38 123.59 L112.63 123.56 L112.88 123.53 L113.13 123.50 L113.38 123.47 L113.63 123.44 L113.89 123.41 L114.14 123.38 L114.39 123.36 L114.64 123.33 L114.89 123.30 L115.14 123.27 L115.39 123.24 L115.64 123.21 L115.89 123.18 L116.14 123.16 L116.39 123.13 L116.64 123.10 L116.89 123.07 L117.14 123.04 L117.39 123.02 L117.64 122.99 L117.89 122.96 L118.14 122.93 L118.39 122.91 L118.64 122.88 L118.89 122.85 L119.14 122.83 L119.39 122.80 L119.64 122.77 L119.89 122.75 L120.14 122.72 L120.39 122.69 L120.65 122.67 L120.90 122.64 L121.15 122.61 L121.40 122.59 L121.65 122.56 L121.90 122.53 L122.15 122.51 L122.40 122.48 L122.65 122.45 L122.90 122.43 L123.15 122.40 L123.40 122.38 L123.65 122.35 L123.90 122.32 L124.15 122.30 L124.40 122.27 L124.65 122.25 L124.90 122.22 L125.15 122.19 L125.40 122.17 L125.65 122.14 L125.90 122.11 L126.15 122.09 L126.40 122.06 L126.65 122.04 L126.90 122.01 L127.16 121.98 L127.41 121.96 L127.66 121.93 L127.91 121.91 L128.16 121.88 L128.41 121.85 L128.66 121.83 L128.91 121.80 L129.16 121.77 L129.41 121.75 L129.66 121.72 L129.91 121.69 L130.16 121.67 L130.41 121.64 L130.66 121.61 L130.91 121.59 L131.16 121.56 L131.41 121.53 L131.66 121.51 L131.91 121.48 L132.16 121.45 L132.41 121.42 L132.66 121.40 L132.91 121.37 L133.16 121.34 L133.41 121.31 L133.66 121.29 L133.92 121.26 L134.17 121.23 L134.42 121.20 L134.67 121.17 L134.92 121.14 L135.17 121.12 L135.42 121.09 L135.67 121.06 L135.92 121.03 L136.17 121.00 L136.42 120.97 L136.67 120.94 L136.92 120.91 L137.17 120.88 L137.42 120.85 L137.67 120.82 L137.92 120.79 L138.17 120.76 L138.42 120.73 L138.67 120.70 L138.92 120.67 L139.17 120.64 L139.42 120.61 L139.67 120.58 L139.92 120.54 L140.17 120.51 L140.43 120.48 L140.68 120.45 L140.93 120.42 L141.18 120.38 L141.43 120.35 L141.68 120.32 L141.93 120.28 L142.18 120.25 L142.43 120.22 L142.68 120.18 L142.93 120.15 L143.18 120.11 L143.43 120.08 L143.68 120.04 L143.93 120.01 L144.18 119.97 L144.43 119.94 L144.68 119.90 L144.93 119.87 L145.18 119.83 L145.43 119.79 L145.68 119.75 L145.93 119.71 L146.18 119.67 L146.43 119.63 L146.68 119.59 L146.93 119.55 L147.19 119.51 L147.44 119.47 L147.69 119.43 L147.94 119.39 L148.19 119.35 L148.44 119.31 L148.69 119.26 L148.94 119.22 L149.19 119.18 L149.44 119.13 L149.69 119.09 L149.94 119.04 L150.19 119.00 L150.44 118.96 L150.69 118.91 L150.94 118.87 L151.19 118.82 L151.44 118.77 L151.69 118.73 L151.94 118.68 L152.19 118.64 L152.44 118.59 L152.69 118.55 L152.94 118.50 L153.19 118.45 L153.44 118.41 L153.70 118.36 L153.95 118.31 L154.20 118.27 L154.45 118.22 L154.70 118.17 L154.95 118.13 L155.20 118.08 L155.45 118.03 L155.70 117.99 L155.95 117.94 L156.20 117.89 L156.45 117.85 L156.70 117.80 L156.95 117.75 L157.20 117.71 L157.45 117.66 L157.70 117.62 L157.95 117.57 L158.20 117.52 L158.45 117.48 L158.70 117.43 L158.95 117.39 L159.20 117.34 L159.45 117.30 L159.70 117.25 L159.95 117.21 L160.20 117.16 L160.46 117.12 L160.71 117.07 L160.96 117.03 L161.21 116.99 L161.46 116.94 L161.71 116.90 L161.96 116.85 L162.21 116.81 L162.46 116.76 L162.71 116.72 L162.96 116.67 L163.21 116.63 L163.46 116.58 L163.71 116.54 L163.96 116.49 L164.21 116.44 L164.46 116.40 L164.71 116.35 L164.96 116.31 L165.21 116.26 L165.46 116.22 L165.71 116.17 L165.96 116.13 L166.21 116.08 L166.46 116.03 L166.71 115.99 L166.97 115.94 L167.22 115.90 L167.47 115.85 L167.72 115.80 L167.97 115.76 L168.22 115.71 L168.47 115.67 L168.72 115.62 L168.97 115.58 L169.22 115.53 L169.47 115.48 L169.72 115.44 L169.97 115.39 L170.22 115.34 L170.47 115.30 L170.72 115.25 L170.97 115.21 L171.22 115.16 L171.47 115.11 L171.72 115.07 L171.97 115.02 L172.22 114.98 L172.47 114.93 L172.72 114.88 L172.97 114.84 L173.22 114.79 L173.47 114.75 L173.73 114.70 L173.98 114.65 L174.23 114.61 L174.48 114.56 L174.73 114.51 L174.98 114.47 L175.23 114.42 L175.48 114.38 L175.73 114.33 L175.98 114.28 L176.23 114.24 L176.48 114.19 L176.73 114.15 L176.98 114.10 L177.23 114.06 L177.48 114.01 L177.73 113.96 L177.98 113.92 L178.23 113.87 L178.48 113.83 L178.73 113.78 L178.98 113.74 L179.23 113.69 L179.48 113.65 L179.73 113.60 L179.98 113.55 L180.24 113.51 L180.49 113.46 L180.74 113.42 L180.99 113.37 L181.24 113.33 L181.49 113.28 L181.74 113.24 L181.99 113.19 L182.24 113.15 L182.49 113.10 L182.74 113.06 L182.99 113.02 L183.24 112.97 L183.49 112.93 L183.74 112.88 L183.99 112.84 L184.24 112.79 L184.49 112.75 L184.74 112.70 L184.99 112.66 L185.24 112.62 L185.49 112.57 L185.74 112.53 L185.99 112.49 L186.24 112.44 L186.49 112.40 L186.74 112.36 L187.00 112.31 L187.25 112.27 L187.50 112.23 L187.75 112.18 L188.00 112.14 L188.25 112.10 L188.50 112.05 L188.75 112.01 L189.00 111.97 L189.25 111.93 L189.50 111.88 L189.75 111.84 L190.00 111.80 L190.25 111.76 L190.50 111.72 L190.75 111.68 L191.00 111.63 L191.25 111.59 L191.50 111.55 L191.75 111.51 L192.00 111.47 L192.25 111.44 L192.50 111.40 L192.75 111.36 L193.00 111.32 L193.25 111.28 L193.51 111.24 L193.76 111.20 L194.01 111.16 L194.26 111.12 L194.51 111.09 L194.76 111.05 L195.01 111.01 L195.26 110.97 L195.51 110.93 L195.76 110.89 L196.01 110.85 L196.26 110.81 L196.51 110.78 L196.76 110.74 L197.01 110.70 L197.26 110.66 L197.51 110.62 L197.76 110.58 L198.01 110.54 L198.26 110.49 L198.51 110.45 L198.76 110.41 L199.01 110.37 L199.26 110.33 L199.51 110.28 L199.76 110.24 L200.01 110.20 L200.27 110.15 L200.52 110.11 L200.77 110.06 L201.02 110.02 L201.27 109.98 L201.52 109.93 L201.77 109.89 L202.02 109.84 L202.27 109.80 L202.52 109.75 L202.77 109.71 L203.02 109.66 L203.27 109.61 L203.52 109.57 L203.77 109.52 L204.02 109.48 L204.27 109.43 L204.52 109.38 L204.77 109.34 L205.02 109.29 L205.27 109.25 L205.52 109.20 L205.77 109.15 L206.02 109.10 L206.27 109.06 L206.52 109.01 L206.78 108.96 L207.03 108.92 L207.28 108.87 L207.53 108.82 L207.78 108.77 L208.03 108.72 L208.28 108.67 L208.53 108.63 L208.78 108.58 L209.03 108.53 L209.28 108.48 L209.53 108.43 L209.78 108.38 L210.03 108.33 L210.28 108.28 L210.53 108.23 L210.78 108.18 L211.03 108.13 L211.28 108.08 L211.53 108.03 L211.78 107.98 L212.03 107.93 L212.28 107.88 L212.53 107.83 L212.78 107.78 L213.03 107.73 L213.28 107.68 L213.54 107.63 L213.79 107.58 L214.04 107.52 L214.29 107.47 L214.54 107.42 L214.79 107.37 L215.04 107.32 L215.29 107.26 L215.54 107.21 L215.79 107.16 L216.04 107.11 L216.29 107.05 L216.54 107.00 L216.79 106.95 L217.04 106.89 L217.29 106.84 L217.54 106.78 L217.79 106.73 L218.04 106.68 L218.29 106.62 L218.54 106.57 L218.79 106.51 L219.04 106.46 L219.29 106.40 L219.54 106.35 L219.79 106.29 L220.05 106.24 L220.30 106.18 L220.55 106.13 L220.80 106.07 L221.05 106.01 L221.30 105.96 L221.55 105.90 L221.80 105.84 L222.05 105.79 L222.30 105.73 L222.55 105.67 L222.80 105.62 L223.05 105.56 L223.30 105.50" stroke="#000000" stroke-width="1.5" />
<path d="M52.40 166.30 L52.65 166.27 L52.90 166.24 L53.15 166.21 L53.40 166.18 L53.65 166.15 L53.90 166.12 L54.15 166.09 L54.40 166.06 L54.65 166.03 L54.90 166.00 L55.15 165.97 L55.40 165.94 L55.65 165.91 L55.90 165.89 L56.15 165.86 L56.40 165.83 L56.65 165.80 L56.90 165.78 L57.15 165.75 L57.41 165.72 L57.66 165.70 L57.91 165.67 L58.16 165.64 L58.41 165.62 L58.66 165.59 L58.91 165.57 L59.16 165.54 L59.41 165.52 L59.66 165.50 L59.91 165.47 L60.16 165.45 L60.41 165.43 L60.66 165.40 L60.91 165.38 L61.16 165.36 L61.41 165.34 L61.66 165.32 L61.91 165.29 L62.16 165.27 L62.41 165.25 L62.66 165.23 L62.91 165.21 L63.16 165.19 L63.41 165.17 L63.66 165.15 L63.91 165.13 L64.16 165.10 L64.41 165.08 L64.66 165.06 L64.91 165.04 L65.16 165.03 L65.41 165.01 L65.66 164.99 L65.91 164.97 L66.16 164.95 L66.41 164.93 L66.66 164.91 L66.91 164.89 L67.16 164.87 L67.42 164.86 L67.67 164.84 L67.92 164.82 L68.17 164.80 L68.42 164.79 L68.67 164.77 L68.92 164.75 L69.17 164.74 L69.42 164.72 L69.67 164.70 L69.92 164.69 L70.17 164.67 L70.42 164.66 L70.67 164.64 L70.92 164.63 L71.17 164.61 L71.42 164.60 L71.67 164.58 L71.92 164.57 L72.17 164.56 L72.42 164.55 L72.67 164.53 L72.92 164.52 L73.17 164.51 L73.42 164.50 L73.67 164.49 L73.92 164.48 L74.17 164.47 L74.42 164.46 L74.67 164.45 L74.92 164.44 L75.17 164.43 L75.42 164.42 L75.67 164.41 L75.92 164.40 L76.17 164.39 L76.42 164.37 L76.67 164.36 L76.92 164.35 L77.17 164.34 L77.43 164.33 L77.68 164.32 L77.93 164.31 L78.18 164.30 L78.43 164.29 L78.68 164.27 L78.93 164.26 L79.18 164.25 L79.43 164.23 L79.68 164.22 L79.93 164.20 L80.18 164.19 L80.43 164.17 L80.68 164.16 L80.93 164.14 L81.18 164.12 L81.43 164.11 L81.68 164.09 L81.93 164.07 L82.18 164.05 L82.43 164.03 L82.68 164.01 L82.93 163.99 L83.18 163.97 L83.43 163.95 L83.68 163.93 L83.93 163.91 L84.18 163.88 L84.43 163.86 L84.68 163.84 L84.93 163.82 L85.18 163.79 L85.43 163.77 L85.68 163.75 L85.93 163.72 L86.18 163.70 L86.43 163.67 L86.68 163.65 L86.93 163.62 L87.19 163.60 L87.44 163.57 L87.69 163.55 L87.94 163.52 L88.19 163.49 L88.44 163.47 L88.69 163.44 L88.94 163.42 L89.19 163.39 L89.44 163.36 L89.69 163.33 L89.94 163.31 L90.19 163.28 L90.44 163.25 L90.69 163.22 L90.94 163.19 L91.19 163.16 L91.44 163.12 L91.69 163.09 L91.94 163.06 L92.19 163.02 L92.44 162.99 L92.69 162.95 L92.94 162.91 L93.19 162.88 L93.44 162.84 L93.69 162.80 L93.94 162.77 L94.19 162.73 L94.44 162.69 L94.69 162.65 L94.94 162.62 L95.19 162.58 L95.44 162.54 L95.69 162.51 L95.94 162.47 L96.19 162.43 L96.44 162.40 L96.69 162.37 L96.94 162.33 L97.20 162.30 L97.45 162.27 L97.70 162.24 L97.95 162.21 L98.20 162.18 L98.45 162.15 L98.70 162.12 L98.95 162.09 L99.20 162.06 L99.45 162.04 L99.70 162.01 L99.95 161.98 L100.20 161.96 L100.45 161.93 L100.70 161.91 L100.95 161.88 L101.20 161.86 L101.45 161.83 L101.70 161.81 L101.95 161.78 L102.20 161.76 L102.45 161.73 L102.70 161.71 L102.95 161.69 L103.20 161.66 L103.45 161.64 L103.70 161.62 L103.95 161.59 L104.20 161.57 L104.45 161.55 L104.70 161.52 L104.95 161.50 L105.20 161.48 L105.45 161.45 L105.70 161.43 L105.95 161.41 L106.20 161.38 L106.45 161.36 L106.70 161.33 L106.96 161.31 L107.21 161.29 L107.46 161.26 L107.71 161.24 L107.96 161.21 L108.21 161.19 L108.46 161.16 L108.71 161.14 L108.96 161.11 L109.21 161.08 L109.46 161.06 L109.71 161.03 L109.96 161.00 L110.21 160.98 L110.46 160.95 L110.71 160.92 L110.96 160.89 L111.21 160.87 L111.46 160.84 L111.71 160.81 L111.96 160.78 L112.21 160.75 L112.46 160.73 L112.71 160.70 L112.96 160.67 L113.21 160.64 L113.46 160.61 L113.71 160.58 L113.96 160.55 L114.21 160.52 L114.46 160.49 L114.71 160.46 L114.96 160.43 L115.21 160.40 L115.46 160.37 L115.71 160.34 L115.96 160.31 L116.21 160.28 L116.46 160.25 L116.71 160.22 L116.97 160.19 L117.22 160.16 L117.47 160.13 L117.72 160.10 L117.97 160.06 L118.22 160.03 L118.47 160.00 L118.72 159.97 L118.97 159.94 L119.22 159.90 L119.47 159.87 L119.72 159.84 L119.97 159.80 L120.22 159.77 L120.47 159.74 L120.72 159.70 L120.97 159.67 L121.22 159.64 L121.47 159.60 L121.72 159.57 L121.97 159.53 L122.22 159.50 L122.47 159.46 L122.72 159.43 L122.97 159.39 L123.22 159.36 L123.47 159.32 L123.72 159.28 L123.97 159.25 L124.22 159.21 L124.47 159.18 L124.72 159.14 L124.97 159.10 L125.22 159.06 L125.47 159.03 L125.72 158.99 L125.97 158.95 L126.22 158.91 L126.47 158.87 L126.72 158.84 L126.98 158.80 L127.23 158.76 L127.48 158.72 L127.73 158.68 L127.98 158.64 L128.23 158.60 L128.48 158.56 L128.73 158.51 L128.98 158.47 L129.23 158.43 L129.48 158.39 L129.73 158.35 L129.98 158.30 L130.23 158.26 L130.48 158.22 L130.73 158.17 L130.98 158.13 L131.23 158.09 L131.48 158.04 L131.73 158.00 L131.98 157.95 L132.23 157.90 L132.48 157.86 L132.73 157.81 L132.98 157.76 L133.23 157.72 L133.48 157.67 L133.73 157.62 L133.98 157.57 L134.23 157.52 L134.48 157.48 L134.73 157.43 L134.98 157.38 L135.23 157.33 L135.48 157.28 L135.73 157.22 L135.98 157.17 L136.23 157.12 L136.48 157.07 L136.74 157.02 L136.99 156.96 L137.24 156.91 L137.49 156.86 L137.74 156.80 L137.99 156.75 L138.24 156.70 L138.49 156.64 L138.74 156.59 L138.99 156.53 L139.24 156.47 L139.49 156.42 L139.74 156.36 L139.99 156.30 L140.24 156.24 L140.49 156.19 L140.74 156.13 L140.99 156.07 L141.24 156.01 L141.49 155.95 L141.74 155.89 L141.99 155.82 L142.24 155.76 L142.49 155.70 L142.74 155.64 L142.99 155.57 L143.24 155.51 L143.49 155.44 L143.74 155.38 L143.99 155.31 L144.24 155.25 L144.49 155.18 L144.74 155.11 L144.99 155.04 L145.24 154.98 L145.49 154.91 L145.74 154.84 L145.99 154.77 L146.24 154.70 L146.49 154.63 L146.75 154.56 L147.00 154.49 L147.25 154.42 L147.50 154.34 L147.75 154.27 L148.00 154.20 L148.25 154.12 L148.50 154.05 L148.75 153.98 L149.00 153.90 L149.25 153.83 L149.50 153.75 L149.75 153.68 L150.00 153.60 L150.25 153.52 L150.50 153.45 L150.75 153.37 L151.00 153.29 L151.25 153.21 L151.50 153.13 L151.75 153.05 L152.00 152.97 L152.25 152.89 L152.50 152.80 L152.75 152.72 L153.00 152.64 L153.25 152.55 L153.50 152.47 L153.75 152.38 L154.00 152.29 L154.25 152.21 L154.50 152.12 L154.75 152.03 L155.00 151.94 L155.25 151.85 L155.50 151.76 L155.75 151.67 L156.00 151.57 L156.25 151.48 L156.51 151.39 L156.76 151.29 L157.01 151.20 L157.26 151.10 L157.51 151.00 L157.76 150.91 L158.01 150.81 L158.26 150.71 L158.51 150.61 L158.76 150.50 L159.01 150.40 L159.26 150.30 L159.51 150.19 L159.76 150.09 L160.01 149.98 L160.26 149.87 L160.51 149.76 L160.76 149.66 L161.01 149.55 L161.26 149.44 L161.51 149.33 L161.76 149.21 L162.01 149.10 L162.26 148.99 L162.51 148.88 L162.76 148.76 L163.01 148.65 L163.26 148.54 L163.51 148.42 L163.76 148.31 L164.01 148.19 L164.26 148.08 L164.51 147.96 L164.76 147.84 L165.01 147.72 L165.26 147.59 L165.51 147.47 L165.76 147.34 L166.01 147.22 L166.26 147.09 L166.52 146.97 L166.77 146.85 L167.02 146.73 L167.27 146.60 L167.52 146.49 L167.77 146.37 L168.02 146.26 L168.27 146.14 L168.52 146.04 L168.77 145.93 L169.02 145.82 L169.27 145.72 L169.52 145.62 L169.77 145.52 L170.02 145.42 L170.27 145.32 L170.52 145.22 L170.77 145.12 L171.02 145.01 L171.27 144.91 L171.52 144.81 L171.77 144.70 L172.02 144.60 L172.27 144.49 L172.52 144.38 L172.77 144.26 L173.02 144.15 L173.27 144.03 L173.52 143.90 L173.77 143.77 L174.02 143.64 L174.27 143.51 L174.52 143.37 L174.77 143.23 L175.02 143.08 L175.27 142.93 L175.52 142.78 L175.77 142.63 L176.02 142.47 L176.28 142.31 L176.53 142.15 L176.78 141.99 L177.03 141.82 L177.28 141.65 L177.53 141.48 L177.78 141.30 L178.03 141.12 L178.28 140.94 L178.53 140.75 L178.78 140.57 L179.03 140.38 L179.28 140.18 L179.53 139.98 L179.78 139.79 L180.03 139.58 L180.28 139.38 L180.53 139.17 L180.78 138.96 L181.03 138.74 L181.28 138.53 L181.53 138.30 L181.78 138.08 L182.03 137.85 L182.28 137.62 L182.53 137.39 L182.78 137.14 L183.03 136.88 L183.28 136.62 L183.53 136.35 L183.78 136.07 L184.03 135.78 L184.28 135.49 L184.53 135.19 L184.78 134.88 L185.03 134.57 L185.28 134.26 L185.53 133.94 L185.78 133.62 L186.03 133.30 L186.29 132.97 L186.54 132.65 L186.79 132.32 L187.04 131.99 L187.29 131.66 L187.54 131.33 L187.79 131.00 L188.04 130.66 L188.29 130.31 L188.54 129.96 L188.79 129.60 L189.04 129.22 L189.29 128.84 L189.54 128.44 L189.79 128.02 L190.04 127.59 L190.29 127.14 L190.54 126.67 L190.79 126.18 L191.04 125.67 L191.29 125.14 L191.54 124.59 L191.79 124.03 L192.04 123.45 L192.29 122.85 L192.54 122.24 L192.79 121.61 L193.04 120.97 L193.29 120.32 L193.54 119.65 L193.79 118.96 L194.04 118.27 L194.29 117.56 L194.54 116.84 L194.79 116.11 L195.04 115.37 L195.29 114.63 L195.54 113.89 L195.79 113.13 L196.04 112.36 L196.30 111.56 L196.55 110.71 L196.80 109.81 L197.05 108.86 L197.30 107.83 L197.55 106.72 L197.80 105.52 L198.05 104.16 L198.30 102.41 L198.55 100.43 L198.80 98.28 L199.05 95.86 L199.30 93.26 L199.55 90.61 L199.80 88.00 L200.05 85.53 L200.30 83.16 L200.55 80.84 L200.80 78.55 L201.05 76.30 L201.30 82.58 L201.55 87.44 L201.81 90.08 L202.06 92.11 L202.31 93.73 L202.56 95.12 L202.82 96.44 L203.07 97.87 L203.32 99.52 L203.57 101.28 L203.83 103.06 L204.08 104.83 L204.33 106.54 L204.58 108.14 L204.84 109.59 L205.09 110.95 L205.34 112.24 L205.59 113.46 L205.84 114.59 L206.10 115.61 L206.35 116.54 L206.60 117.39 L206.85 118.19 L207.11 118.94 L207.36 119.65 L207.61 120.33 L207.86 120.98 L208.12 121.63 L208.37 122.27 L208.62 122.91 L208.87 123.56 L209.13 124.24 L209.38 124.94 L209.63 125.69 L209.88 126.47 L210.13 127.27 L210.39 128.10 L210.64 128.94 L210.89 129.79 L211.14 130.66 L211.40 131.53 L211.65 132.40 L211.90 133.27 L212.15 134.14 L212.41 135.01 L212.66 135.86 L212.91 136.70 L213.16 137.54 L213.42 138.38 L213.67 139.22 L213.92 140.07 L214.17 140.90 L214.42 141.73 L214.68 142.55 L214.93 143.38 L215.18 144.21 L215.43 145.07 L215.69 145.94 L215.94 146.84 L216.19 147.77 L216.44 148.73 L216.70 149.70 L216.95 150.70 L217.20 151.70 L217.45 152.72 L217.71 153.75 L217.96 154.78 L218.21 155.81 L218.46 156.84 L218.71 157.86 L218.97 158.85 L219.22 159.82 L219.47 160.82 L219.72 161.85 L219.98 162.95 L220.23 164.14 L220.48 165.42 L220.73 166.87 L220.99 168.64 L221.24 170.77 L221.49 173.41 L221.74 176.75 L222.00 181.96 L222.25 187.89 L222.50 194.00 L222.75 194.00 L223.00 194.00 L223.25 194.00 L223.50 194.00 L223.75 187.95 L224.00 182.08 L224.25 176.87 L224.50 173.46 L224.75 170.72 L225.00 168.64 L225.25 167.20 L225.50 166.14 L225.75 165.26 L226.00 164.39 L226.25 163.39 L226.50 162.37 L226.75 161.33 L227.00 160.30 L227.25 159.26 L227.50 158.23 L227.75 157.19 L228.00 156.15 L228.25 155.10 L228.50 154.05 L228.75 152.99 L229.00 151.94 L229.25 150.90 L229.50 149.86 L229.75 148.85 L230.00 147.86 L230.25 146.89 L230.50 145.96 L230.75 145.07 L231.00 144.20 L231.25 143.35 L231.50 142.49 L231.75 141.63 L232.00 140.74 L232.25 139.81 L232.50 138.84 L232.75 137.85 L233.00 136.83 L233.25 135.80 L233.50 134.76 L233.75 133.73 L234.00 132.70 L234.25 131.70 L234.50 130.72 L234.75 129.76 L235.00 128.81 L235.25 127.88 L235.50 126.95 L235.75 126.03 L236.00 125.09 L236.25 124.15 L236.50 123.20 L236.75 122.23 L237.00 121.23 L237.25 120.21 L237.50 119.18 L237.75 118.20 L238.00 117.19 L238.25 116.13 L238.50 114.95 L238.75 113.60 L239.00 111.96 L239.25 109.82 L239.50 107.43 L239.75 105.02 L240.00 102.32 L240.25 99.81 L240.50 97.97 L240.75 96.60 L241.00 97.97 L241.25 99.81 L241.50 102.32 L241.75 105.02 L242.00 107.42 L242.25 109.77 L242.50 111.91 L242.75 113.65 L243.00 115.13 L243.25 116.46 L243.50 117.68 L243.75 118.84 L244.00 120.00 L244.25 121.12 L244.50 122.16 L244.75 123.17 L245.00 124.20 L245.25 125.30 L245.50 126.50 L245.75 127.89 L246.00 129.40 L246.25 130.98 L246.50 132.55 L246.75 134.06 L247.00 135.43 L247.25 136.60 L247.50 137.55 L247.75 138.39 L248.00 139.15 L248.25 139.85 L248.50 140.55 L248.75 141.25 L249.00 142.00 L249.25 142.79 L249.50 143.58 L249.75 144.37 L250.00 145.17 L250.25 145.98 L250.50 146.79 L250.75 147.60 L251.00 148.41 L251.25 149.23 L251.50 150.04 L251.75 150.86 L252.00 151.70 L252.25 152.54 L252.50 153.40 L252.75 154.26 L253.00 155.12 L253.25 155.98 L253.50 156.84 L253.75 157.69 L254.00 158.53 L254.25 159.35 L254.50 160.16 L254.75 160.94 L255.00 161.69 L255.25 162.38 L255.50 163.04 L255.75 163.73 L256.00 164.50 L256.25 165.37 L256.50 166.32 L256.75 167.32 L257.00 168.39 L257.25 169.51 L257.50 170.67 L257.75 171.87 L258.00 173.09 L258.25 174.33 L258.50 175.61 L258.75 176.98 L259.00 178.47 L259.25 180.12 L259.50 181.97 L259.75 184.16 L260.00 186.68 L260.25 189.55 L260.50 192.95 L260.75 197.15 L261.00 201.50 L261.27 201.50 L261.53 201.50 L261.80 201.50 L262.05 191.94 L262.30 187.54 L262.55 184.89 L262.81 182.80 L263.06 181.04 L263.31 179.52 L263.56 178.12 L263.81 176.79 L264.06 175.58 L264.31 174.44 L264.57 173.37 L264.82 172.35 L265.07 171.34 L265.32 170.32 L265.57 169.31 L265.82 168.32 L266.07 167.35 L266.32 166.40 L266.58 165.48 L266.83 164.59 L267.08 163.74 L267.33 162.92 L267.58 162.13 L267.83 161.37 L268.08 160.62 L268.34 159.88 L268.59 159.14 L268.84 158.39 L269.09 157.63 L269.34 156.87 L269.59 156.11 L269.84 155.36 L270.10 154.61 L270.35 153.86 L270.60 153.10 L270.85 152.35 L271.10 151.60 L271.35 150.85 L271.60 150.10 L271.85 149.34 L272.11 148.58 L272.36 147.84 L272.61 147.11 L272.86 146.39 L273.11 145.68 L273.36 144.96 L273.61 144.22 L273.87 143.46 L274.12 142.66 L274.37 141.82 L274.62 140.93 L274.87 139.97 L275.12 138.94 L275.37 137.85 L275.63 136.71 L275.88 135.54 L276.13 134.33 L276.38 133.09 L276.63 131.85 L276.88 130.53 L277.13 129.14 L277.38 127.73 L277.64 126.34 L277.89 125.04 L278.14 123.84 L278.39 122.62 L278.64 121.28 L278.89 119.71 L279.14 117.73 L279.40 115.44 L279.65 113.03 L279.90 110.51 L280.15 107.80 L280.40 110.51 L280.65 113.04 L280.91 115.44 L281.16 117.71 L281.41 119.72 L281.66 121.40 L281.91 122.88 L282.17 124.25 L282.42 125.57 L282.67 126.89 L282.92 128.16 L283.18 129.39 L283.43 130.63 L283.68 131.89 L283.93 133.23 L284.18 134.62 L284.44 136.02 L284.69 137.41 L284.94 138.73 L285.19 139.96 L285.44 141.11 L285.70 142.20 L285.95 143.25 L286.20 144.26 L286.45 145.23 L286.70 146.16 L286.96 147.05 L287.21 147.92 L287.46 148.76 L287.71 149.58 L287.97 150.37 L288.22 151.15 L288.47 151.91 L288.72 152.65 L288.97 153.39 L289.23 154.12 L289.48 154.84 L289.73 155.55 L289.98 156.23 L290.23 156.90 L290.49 157.56 L290.74 158.20 L290.99 158.85 L291.24 159.49 L291.49 160.13 L291.75 160.79 L292.00 161.46 L292.25 162.14 L292.50 162.84 L292.76 163.54 L293.01 164.25 L293.26 164.96 L293.51 165.68 L293.76 166.40 L294.02 167.13 L294.27 167.86 L294.52 168.60 L294.77 169.33 L295.02 170.07 L295.28 170.81 L295.53 171.56 L295.78 172.31 L296.03 173.07 L296.28 173.82 L296.54 174.59 L296.79 175.35 L297.04 176.13 L297.29 176.89 L297.55 177.65 L297.80 178.40 L298.05 179.17 L298.30 179.94 L298.55 180.72 L298.81 181.53 L299.06 182.37 L299.31 183.24 L299.56 184.13 L299.81 185.04 L300.07 185.98 L300.32 186.94 L300.57 187.93 L300.82 188.95 L301.07 190.01 L301.33 191.10 L301.58 192.24 L301.83 193.42 L302.08 194.68 L302.34 196.01 L302.59 197.41 L302.84 198.85 L303.09 200.35 L303.34 201.89 L303.60 203.52 L303.85 205.23 L304.10 207.00 L304.40 207.00 L304.70 207.00 L305.00 207.00 L305.30 207.00 L305.55 204.77 L305.80 202.63 L306.05 200.58 L306.30 198.62 L306.55 196.72 L306.81 194.88 L307.06 193.10 L307.31 191.37 L307.56 189.67 L307.81 188.00 L308.06 186.39 L308.31 184.86 L308.56 183.41 L308.81 182.06 L309.06 180.75 L309.31 179.51 L309.56 178.31 L309.82 177.15 L310.07 176.03 L310.32 174.95 L310.57 173.90 L310.82 172.91 L311.07 171.96 L311.32 171.03 L311.57 170.10 L311.82 169.18 L312.07 168.28 L312.32 167.38 L312.58 166.46 L312.83 165.52 L313.08 164.57 L313.33 163.60 L313.58 162.61 L313.83 161.59 L314.08 160.54 L314.33 159.46 L314.58 158.36 L314.83 157.23 L315.08 156.09 L315.34 154.92 L315.59 153.73 L315.84 152.52 L316.09 151.29 L316.34 150.02 L316.59 148.72 L316.84 147.40 L317.09 146.05 L317.34 144.61 L317.59 143.14 L317.84 141.78 L318.09 140.58 L318.35 139.47 L318.60 138.38 L318.85 137.24 L319.10 135.99 L319.35 134.63 L319.60 133.20 L319.86 134.04 L320.11 135.11 L320.37 136.35 L320.63 137.79 L320.89 139.50 L321.14 141.51 L321.40 143.87 L321.66 146.66 L321.91 149.89 L322.17 153.56 L322.43 157.75 L322.69 163.06 L322.94 170.44 L323.20 188.30 L323.46 175.84 L323.72 168.21 L323.98 161.51 L324.23 155.47 L324.49 149.73 L324.75 144.39 L325.01 140.62 L325.27 137.89 L325.52 135.62 L325.78 133.54 L326.04 131.68 L326.30 130.10 L326.55 132.28 L326.80 134.38 L327.05 136.39 L327.30 138.28 L327.55 140.11 L327.80 142.00 L328.05 144.09 L328.30 146.32 L328.55 148.53 L328.80 150.55 L329.05 152.20 L329.30 153.56 L329.55 154.77 L329.80 155.88 L330.05 156.95 L330.30 158.04 L330.55 159.20 L330.80 160.35 L331.05 161.50 L331.30 162.64 L331.55 163.77 L331.80 164.92 L332.05 166.10 L332.30 167.28 L332.55 168.44 L332.80 169.55 L333.05 170.58 L333.30 171.50 L333.55 172.34 L333.80 173.14 L334.05 173.92 L334.30 174.67 L334.55 175.39 L334.80 176.08 L335.05 176.74 L335.30 177.37 L335.55 177.97 L335.80 178.54 L336.05 179.09 L336.30 179.61 L336.55 180.10 L336.80 180.57 L337.05 181.04 L337.30 181.50 L337.55 181.95 L337.80 182.38 L338.05 182.80 L338.30 183.20 L338.55 183.59 L338.80 183.95 L339.05 184.29 L339.30 184.60 L339.55 184.89 L339.80 185.15 L340.05 185.38 L340.30 185.58 L340.55 185.77 L340.80 185.96 L341.05 186.14 L341.30 186.32 L341.55 186.50 L341.80 186.67 L342.05 186.82 L342.30 186.97 L342.55 187.11 L342.80 187.23 L343.05 187.34 L343.30 187.43 L343.55 187.50 L343.80 187.56 L344.05 187.59 L344.30 187.60 L344.55 187.59 L344.80 187.56 L345.05 187.50 L345.30 187.43 L345.55 187.34 L345.80 187.23 L346.05 187.11 L346.30 186.97 L346.55 186.83 L346.80 186.67 L347.05 186.50 L347.30 186.32 L347.55 186.14 L347.80 185.95 L348.05 185.75 L348.30 185.56 L348.55 185.36 L348.80 185.14 L349.05 184.89 L349.30 184.62 L349.55 184.31 L349.80 183.98 L350.05 183.62 L350.30 183.24 L350.55 182.84 L350.80 182.41 L351.05 181.97 L351.30 181.50 L351.55 181.01 L351.80 180.51 L352.05 179.98 L352.30 179.44 L352.55 178.89 L352.80 178.26 L353.05 177.54 L353.30 176.74 L353.55 175.89 L353.80 174.99 L354.05 174.07 L354.30 173.13 L354.55 172.19 L354.80 171.26 L355.05 170.35 L355.30 169.42 L355.55 168.47 L355.80 167.50" stroke="#1f6b26" stroke-width="1.75" />
<path d="M87.05 222.00 L87.05 221.60 L87.05 221.20 L87.05 220.81 L87.05 220.41 L87.05 220.01 L87.05 219.61 L87.05 219.22 L87.06 218.82 L87.06 218.42 L87.06 218.02 L87.06 217.63 L87.06 217.23 L87.06 216.83 L87.07 216.43 L87.07 216.04 L87.07 215.64 L87.07 215.24 L87.08 214.84 L87.08 214.45 L87.08 214.05 L87.09 213.65 L87.09 213.25 L87.09 212.86 L87.10 212.46 L87.10 212.06 L87.11 211.66 L87.11 211.27 L87.11 210.87 L87.12 210.47 L87.12 210.07 L87.13 209.68 L87.13 209.28 L87.14 208.88 L87.14 208.48 L87.15 208.09 L87.15 207.69 L87.16 207.29 L87.16 206.89 L87.17 206.50 L87.17 206.10 L87.18 205.70 L87.18 205.30 L87.19 204.91 L87.19 204.51 L87.20 204.11 L87.21 203.71 L87.21 203.32 L87.22 202.92 L87.22 202.52 L87.23 202.12 L87.24 201.73 L87.24 201.33 L87.25 200.93 L87.26 200.53 L87.26 200.14 L87.27 199.74 L87.28 199.34 L87.28 198.94 L87.29 198.55 L87.30 198.15 L87.30 197.75 L87.31 197.36 L87.32 196.96 L87.33 196.56 L87.34 196.16 L87.35 195.77 L87.36 195.37 L87.37 194.97 L87.39 194.57 L87.40 194.18 L87.41 193.78 L87.43 193.38 L87.44 192.98 L87.46 192.59 L87.47 192.19 L87.49 191.79 L87.51 191.40 L87.52 191.00 L87.54 190.60 L87.56 190.20 L87.57 189.81 L87.59 189.41 L87.61 189.01 L87.63 188.62 L87.65 188.22 L87.67 187.82 L87.68 187.42 L87.70 187.03 L87.72 186.63 L87.74 186.23 L87.76 185.84 L87.78 185.44 L87.80 185.04 L87.82 184.64 L87.84 184.25 L87.85 183.85 L87.87 183.45 L87.89 183.06 L87.91 182.66 L87.93 182.26 L87.95 181.86 L87.97 181.47 L87.99 181.07 L88.02 180.67 L88.04 180.28 L88.06 179.88 L88.08 179.48 L88.10 179.08 L88.13 178.69 L88.15 178.29 L88.17 177.89 L88.20 177.50 L88.22 177.10 L88.25 176.70 L88.27 176.31 L88.30 175.91 L88.33 175.51 L88.36 175.12 L88.38 174.72 L88.41 174.32 L88.44 173.93 L88.47 173.53 L88.51 173.14 L88.54 172.74 L88.57 172.34 L88.60 171.95 L88.64 171.55 L88.68 171.16 L88.72 170.76 L88.76 170.37 L88.80 169.97 L88.85 169.58 L88.89 169.18 L88.94 168.78 L88.99 168.39 L89.05 168.00 L89.10 167.60 L89.16 167.21 L89.21 166.81 L89.27 166.42 L89.33 166.03 L89.40 165.64 L89.46 165.24 L89.52 164.85 L89.59 164.46 L89.67 164.07 L89.75 163.68 L89.83 163.29 L89.91 162.90 L90.00 162.51 L90.09 162.13 L90.18 161.74 L90.28 161.35 L90.38 160.97 L90.48 160.58 L90.58 160.20 L90.68 159.82 L90.79 159.43 L90.90 159.05 L91.02 158.66 L91.14 158.28 L91.26 157.90 L91.39 157.53 L91.53 157.16 L91.68 156.80 L91.84 156.44 L92.01 156.08 L92.19 155.72 L92.38 155.36 L92.58 155.01 L92.78 154.66 L92.99 154.32 L93.21 153.99 L93.44 153.66 L93.66 153.35 L93.90 153.04 L94.15 152.74 L94.42 152.44 L94.69 152.15 L94.97 151.86 L95.26 151.58 L95.56 151.31 L95.86 151.04 L96.17 150.78 L96.48 150.53 L96.79 150.29 L97.10 150.05 L97.42 149.82 L97.74 149.59 L98.06 149.37 L98.39 149.15 L98.73 148.93 L99.07 148.73 L99.41 148.52 L99.76 148.33 L100.11 148.13 L100.47 147.95 L100.83 147.77 L101.20 147.60 L101.45 147.48 L101.70 147.36 L101.95 147.24 L102.20 147.12 L102.45 147.00 L102.70 146.88 L102.95 146.76 L103.20 146.64 L103.45 146.52 L103.70 146.40 L103.95 146.28 L104.20 146.16 L104.45 146.04 L104.70 145.93 L104.95 145.81 L105.20 145.69 L105.45 145.57 L105.70 145.46 L105.95 145.34 L106.21 145.21 L106.46 145.09 L106.71 144.97 L106.96 144.84 L107.21 144.72 L107.46 144.60 L107.71 144.47 L107.96 144.36 L108.21 144.24 L108.46 144.12 L108.71 144.01 L108.96 143.90 L109.21 143.80 L109.46 143.70 L109.71 143.60 L109.96 143.51 L110.21 143.43 L110.46 143.35 L110.71 143.27 L110.96 143.20 L111.21 143.12 L111.46 143.05 L111.71 142.98 L111.96 142.92 L112.21 142.85 L112.46 142.79 L112.71 142.72 L112.96 142.66 L113.21 142.60 L113.46 142.54 L113.71 142.47 L113.96 142.41 L114.21 142.35 L114.46 142.28 L114.71 142.22 L114.96 142.16 L115.21 142.10 L115.46 142.04 L115.71 141.98 L115.96 141.92 L116.22 141.86 L116.47 141.80 L116.72 141.75 L116.97 141.69 L117.22 141.63 L117.47 141.58 L117.72 141.52 L117.97 141.46 L118.22 141.41 L118.47 141.35 L118.72 141.30 L118.97 141.24 L119.22 141.19 L119.47 141.13 L119.72 141.07 L119.97 141.02 L120.22 140.96 L120.47 140.91 L120.72 140.85 L120.97 140.80 L121.22 140.74 L121.47 140.69 L121.72 140.63 L121.97 140.57 L122.22 140.52 L122.47 140.46 L122.72 140.40 L122.97 140.34 L123.22 140.28 L123.47 140.23 L123.72 140.17 L123.97 140.11 L124.22 140.05 L124.47 139.99 L124.72 139.93 L124.97 139.87 L125.22 139.81 L125.47 139.74 L125.72 139.68 L125.97 139.62 L126.23 139.56 L126.48 139.50 L126.73 139.44 L126.98 139.38 L127.23 139.32 L127.48 139.26 L127.73 139.20 L127.98 139.13 L128.23 139.07 L128.48 139.01 L128.73 138.95 L128.98 138.89 L129.23 138.82 L129.48 138.76 L129.73 138.70 L129.98 138.64 L130.23 138.57 L130.48 138.51 L130.73 138.45 L130.98 138.38 L131.23 138.32 L131.48 138.25 L131.73 138.19 L131.98 138.12 L132.23 138.06 L132.48 137.99 L132.73 137.93 L132.98 137.86 L133.23 137.80 L133.48 137.73 L133.73 137.66 L133.98 137.59 L134.23 137.53 L134.48 137.46 L134.73 137.39 L134.98 137.32 L135.23 137.25 L135.48 137.18 L135.73 137.11 L135.98 137.04 L136.24 136.97 L136.49 136.90 L136.74 136.82 L136.99 136.75 L137.24 136.67 L137.49 136.60 L137.74 136.53 L137.99 136.45 L138.24 136.37 L138.49 136.30 L138.74 136.22 L138.99 136.15 L139.24 136.07 L139.49 135.99 L139.74 135.92 L139.99 135.84 L140.24 135.76 L140.49 135.69 L140.74 135.61 L140.99 135.53 L141.24 135.45 L141.49 135.38 L141.74 135.30 L141.99 135.22 L142.24 135.15 L142.49 135.07 L142.74 134.99 L142.99 134.92 L143.24 134.84 L143.49 134.77 L143.74 134.69 L143.99 134.61 L144.24 134.54 L144.49 134.47 L144.74 134.39 L144.99 134.32 L145.24 134.25 L145.49 134.17 L145.74 134.10 L145.99 134.03 L146.25 133.96 L146.50 133.89 L146.75 133.83 L147.00 133.76 L147.25 133.69 L147.50 133.62 L147.75 133.55 L148.00 133.49 L148.25 133.42 L148.50 133.35 L148.75 133.28 L149.00 133.20 L149.25 133.13 L149.50 133.06 L149.75 132.98 L150.00 132.90 L150.25 132.82 L150.50 132.74 L150.75 132.66 L151.00 132.57 L151.25 132.49 L151.50 132.41 L151.75 132.32 L152.00 132.23 L152.25 132.15 L152.50 132.06 L152.75 131.97 L153.00 131.88 L153.25 131.79 L153.50 131.69 L153.75 131.60 L154.00 131.51 L154.25 131.41 L154.50 131.32 L154.75 131.22 L155.00 131.12 L155.25 131.03 L155.50 130.93 L155.75 130.83 L156.00 130.73 L156.26 130.63 L156.51 130.52 L156.76 130.42 L157.01 130.32 L157.26 130.21 L157.51 130.11 L157.76 130.00 L158.01 129.90 L158.26 129.79 L158.51 129.68 L158.76 129.57 L159.01 129.46 L159.26 129.35 L159.51 129.24 L159.76 129.13 L160.01 129.02 L160.26 128.90 L160.51 128.79 L160.76 128.67 L161.01 128.55 L161.26 128.44 L161.51 128.32 L161.76 128.20 L162.01 128.07 L162.26 127.95 L162.51 127.83 L162.76 127.70 L163.01 127.58 L163.26 127.45 L163.51 127.32 L163.76 127.19 L164.01 127.06 L164.26 126.92 L164.51 126.79 L164.76 126.65 L165.01 126.51 L165.26 126.38 L165.51 126.23 L165.76 126.09 L166.01 125.95 L166.27 125.80 L166.52 125.66 L166.77 125.50 L167.02 125.35 L167.27 125.19 L167.52 125.03 L167.77 124.87 L168.02 124.71 L168.27 124.54 L168.52 124.37 L168.77 124.20 L169.02 124.03 L169.27 123.86 L169.52 123.68 L169.77 123.51 L170.02 123.33 L170.27 123.15 L170.52 122.97 L170.77 122.78 L171.02 122.60 L171.27 122.42 L171.52 122.23 L171.77 122.04 L172.02 121.86 L172.27 121.67 L172.52 121.48 L172.77 121.30 L173.02 121.11 L173.27 120.92 L173.52 120.73 L173.77 120.55 L174.02 120.36 L174.27 120.17 L174.52 119.98 L174.77 119.80 L175.02 119.61 L175.27 119.42 L175.52 119.23 L175.77 119.04 L176.02 118.85 L176.28 118.66 L176.53 118.47 L176.78 118.27 L177.03 118.08 L177.28 117.89 L177.53 117.69 L177.78 117.49 L178.03 117.30 L178.28 117.10 L178.53 116.90 L178.78 116.70 L179.03 116.49 L179.28 116.29 L179.53 116.09 L179.78 115.88 L180.03 115.67 L180.28 115.46 L180.53 115.25 L180.78 115.04 L181.03 114.83 L181.28 114.61 L181.53 114.39 L181.78 114.17 L182.03 113.95 L182.28 113.73 L182.53 113.50 L182.78 113.28 L183.03 113.05 L183.28 112.82 L183.53 112.59 L183.78 112.35 L184.03 112.12 L184.28 111.88 L184.53 111.64 L184.78 111.40 L185.03 111.16 L185.28 110.91 L185.53 110.66 L185.78 110.41 L186.03 110.16 L186.29 109.90 L186.54 109.65 L186.79 109.38 L187.04 109.12 L187.29 108.85 L187.54 108.58 L187.79 108.31 L188.04 108.03 L188.29 107.75 L188.54 107.47 L188.79 107.18 L189.04 106.88 L189.29 106.57 L189.54 106.25 L189.79 105.93 L190.04 105.60 L190.29 105.27 L190.54 104.95 L190.79 104.64 L191.04 104.36 L191.29 104.09 L191.54 103.83 L191.79 103.57 L192.04 103.31 L192.29 103.04 L192.54 102.77 L192.79 102.47 L193.04 102.15 L193.29 101.80 L193.54 101.42 L193.79 101.00 L194.04 100.53 L194.29 100.01 L194.54 99.35 L194.79 98.45 L195.04 97.37 L195.29 96.15 L195.54 94.81 L195.79 93.41 L196.04 91.99 L196.30 90.58 L196.55 89.20 L196.80 87.79 L197.05 86.32 L197.30 84.81 L197.55 83.24 L197.80 81.61 L198.05 79.93 L198.30 78.19 L198.55 76.39 L198.80 74.47 L199.05 72.36 L199.30 70.14 L199.55 67.89 L199.80 65.68 L200.05 63.60 L200.30 61.61 L200.55 59.66 L200.80 57.76 L201.05 55.90 L201.30 60.00 L201.55 63.66 L201.81 66.59 L202.06 69.01 L202.31 71.13 L202.56 73.02 L202.82 74.78 L203.07 76.45 L203.32 78.06 L203.57 79.61 L203.83 81.08 L204.08 82.49 L204.33 83.84 L204.58 85.12 L204.83 86.34 L205.09 87.50 L205.34 88.60 L205.59 89.63 L205.84 90.60 L206.10 91.53 L206.35 92.43 L206.60 93.29 L206.85 94.13 L207.11 94.97 L207.36 95.80 L207.61 96.65 L207.86 97.51 L208.11 98.39 L208.37 99.31 L208.62 100.23 L208.87 101.17 L209.12 102.10 L209.38 103.05 L209.63 103.99 L209.88 104.93 L210.13 105.87 L210.39 106.80 L210.64 107.73 L210.89 108.64 L211.14 109.55 L211.39 110.44 L211.65 111.33 L211.90 112.21 L212.15 113.09 L212.40 113.96 L212.66 114.82 L212.91 115.69 L213.16 116.55 L213.41 117.40 L213.66 118.25 L213.92 119.09 L214.17 119.93 L214.42 120.77 L214.67 121.61 L214.93 122.45 L215.18 123.30 L215.43 124.15 L215.68 124.99 L215.94 125.84 L216.19 126.69 L216.44 127.54 L216.69 128.38 L216.94 129.23 L217.20 130.07 L217.45 130.92 L217.70 131.75 L217.95 132.59 L218.21 133.42 L218.46 134.22 L218.71 135.01 L218.96 135.87 L219.22 136.78 L219.47 137.70 L219.72 138.64 L219.97 139.63 L220.22 140.72 L220.48 141.92 L220.73 143.27 L220.98 144.79 L221.23 146.70 L221.49 149.08 L221.74 151.87 L221.99 154.93 L222.24 158.48 L222.50 164.22 L222.75 180.32 L223.00 210.90 L223.25 180.43 L223.50 167.85 L223.75 161.84 L224.00 158.02 L224.25 155.24 L224.50 152.95 L224.75 150.94 L225.00 149.19 L225.25 147.65 L225.50 146.24 L225.75 144.87 L226.00 143.53 L226.25 142.25 L226.50 141.03 L226.75 139.89 L227.00 138.81 L227.25 137.80 L227.50 136.87 L227.75 136.00 L228.00 135.17 L228.25 134.38 L228.50 133.61 L228.75 132.85 L229.00 132.09 L229.25 131.31 L229.50 130.51 L229.75 129.67 L230.00 128.80 L230.25 127.92 L230.50 127.03 L230.75 126.13 L231.00 125.21 L231.25 124.29 L231.50 123.35 L231.75 122.40 L232.00 121.43 L232.25 120.45 L232.50 119.44 L232.75 118.42 L233.00 117.36 L233.25 116.25 L233.50 115.09 L233.75 113.93 L234.00 112.77 L234.25 111.62 L234.50 110.48 L234.75 109.33 L235.00 108.16 L235.25 106.97 L235.50 105.75 L235.75 104.40 L236.00 102.97 L236.25 101.61 L236.50 100.44 L236.75 99.59 L237.00 98.91 L237.25 98.15 L237.50 97.33 L237.75 96.42 L238.00 95.42 L238.25 94.31 L238.50 93.00 L238.75 91.29 L239.00 89.29 L239.25 87.02 L239.50 85.36 L239.75 84.29 L240.00 83.00 L240.25 80.98 L240.50 78.30 L240.75 75.10 L241.00 78.32 L241.25 81.01 L241.51 83.04 L241.76 84.32 L242.01 85.41 L242.26 87.11 L242.51 89.40 L242.76 91.40 L243.02 93.09 L243.27 94.39 L243.52 95.51 L243.77 96.50 L244.02 97.41 L244.28 98.23 L244.53 98.99 L244.78 99.67 L245.03 100.57 L245.28 101.77 L245.53 103.16 L245.79 104.59 L246.04 105.94 L246.29 107.19 L246.54 108.43 L246.79 109.65 L247.05 110.86 L247.30 112.05 L247.55 113.23 L247.80 114.41 L248.05 115.57 L248.30 116.71 L248.56 117.81 L248.81 118.88 L249.06 119.93 L249.31 120.96 L249.56 121.98 L249.82 122.98 L250.07 123.97 L250.32 124.95 L250.57 125.91 L250.82 126.86 L251.07 127.80 L251.33 128.73 L251.58 129.65 L251.83 130.56 L252.08 131.45 L252.33 132.34 L252.59 133.21 L252.84 134.07 L253.09 134.93 L253.34 135.78 L253.59 136.63 L253.85 137.47 L254.10 138.31 L254.35 139.15 L254.60 140.00 L254.85 140.84 L255.10 141.68 L255.36 142.49 L255.61 143.28 L255.86 144.07 L256.11 144.87 L256.36 145.68 L256.62 146.51 L256.87 147.38 L257.12 148.29 L257.37 149.24 L257.62 150.15 L257.87 151.05 L258.13 151.99 L258.38 153.00 L258.63 154.11 L258.88 155.36 L259.13 156.79 L259.39 158.44 L259.64 160.75 L259.89 163.76 L260.14 167.22 L260.39 171.63 L260.64 177.77 L260.90 185.26 L261.15 195.22 L261.40 218.30 L261.65 195.33 L261.90 185.20 L262.15 178.41 L262.40 173.10 L262.65 167.68 L262.90 163.90 L263.15 161.38 L263.40 159.44 L263.65 157.92 L263.90 156.63 L264.15 155.49 L264.40 154.48 L264.65 153.57 L264.90 152.72 L265.15 151.91 L265.40 151.10 L265.65 150.26 L265.90 149.37 L266.15 148.40 L266.40 147.35 L266.65 146.26 L266.90 145.16 L267.15 144.05 L267.40 142.98 L267.65 141.95 L267.90 141.00 L268.15 140.11 L268.40 139.26 L268.65 138.45 L268.90 137.66 L269.15 136.89 L269.40 136.13 L269.65 135.38 L269.90 134.62 L270.15 133.84 L270.40 133.08 L270.65 132.33 L270.90 131.58 L271.15 130.84 L271.40 130.10 L271.65 129.35 L271.90 128.58 L272.15 127.80 L272.40 127.00 L272.65 126.19 L272.90 125.37 L273.15 124.55 L273.40 123.71 L273.65 122.84 L273.90 121.94 L274.15 120.99 L274.40 120.00 L274.65 118.91 L274.90 117.73 L275.15 116.49 L275.40 115.22 L275.65 113.97 L275.90 112.77 L276.15 111.63 L276.40 110.52 L276.65 109.41 L276.90 108.27 L277.15 107.07 L277.40 105.77 L277.65 104.35 L277.90 102.87 L278.15 101.38 L278.40 99.95 L278.65 98.58 L278.90 97.19 L279.15 95.69 L279.40 94.00 L279.65 92.00 L279.90 89.70 L280.15 87.20 L280.40 89.71 L280.65 92.01 L280.90 94.01 L281.15 95.70 L281.40 97.20 L281.65 98.60 L281.90 99.97 L282.15 101.41 L282.40 102.90 L282.66 104.38 L282.91 105.80 L283.16 107.10 L283.41 108.30 L283.66 109.44 L283.91 110.55 L284.16 111.66 L284.41 112.81 L284.66 114.01 L284.91 115.24 L285.16 116.50 L285.41 117.73 L285.66 118.93 L285.91 120.05 L286.16 121.10 L286.41 122.11 L286.66 123.07 L286.91 124.02 L287.16 124.96 L287.41 125.90 L287.67 126.86 L287.92 127.86 L288.17 128.88 L288.42 129.91 L288.67 130.94 L288.92 131.95 L289.17 132.91 L289.42 133.82 L289.67 134.67 L289.92 135.47 L290.17 136.24 L290.42 136.98 L290.67 137.71 L290.92 138.42 L291.17 139.11 L291.42 139.81 L291.67 140.50 L291.92 141.21 L292.17 141.93 L292.42 142.66 L292.68 143.39 L292.93 144.12 L293.18 144.85 L293.43 145.59 L293.68 146.32 L293.93 147.05 L294.18 147.78 L294.43 148.51 L294.68 149.23 L294.93 149.96 L295.18 150.67 L295.43 151.38 L295.68 152.09 L295.93 152.79 L296.18 153.49 L296.43 154.18 L296.68 154.88 L296.93 155.57 L297.18 156.26 L297.44 156.94 L297.69 157.62 L297.94 158.29 L298.19 158.95 L298.44 159.61 L298.69 160.26 L298.94 160.89 L299.19 161.52 L299.44 162.09 L299.69 162.62 L299.94 163.13 L300.19 163.65 L300.44 164.20 L300.69 164.82 L300.94 165.51 L301.19 166.31 L301.44 167.25 L301.69 168.34 L301.94 169.56 L302.19 170.92 L302.45 172.41 L302.70 174.03 L302.95 175.79 L303.20 177.84 L303.45 180.35 L303.70 183.52 L303.95 188.82 L304.20 194.07 L304.45 198.22 L304.70 223.00 L304.95 200.08 L305.21 195.48 L305.46 191.69 L305.71 185.89 L305.97 181.44 L306.22 178.04 L306.47 175.33 L306.73 173.23 L306.98 171.39 L307.23 169.77 L307.49 168.35 L307.74 167.10 L307.99 166.02 L308.25 165.11 L308.50 164.35 L308.75 163.68 L309.01 163.04 L309.26 162.37 L309.51 161.59 L309.77 160.67 L310.02 159.60 L310.27 158.44 L310.53 157.21 L310.78 155.96 L311.03 154.74 L311.29 153.59 L311.54 152.54 L311.79 151.62 L312.05 150.79 L312.30 150.02 L312.56 149.23 L312.81 148.40 L313.06 147.47 L313.32 146.40 L313.57 145.02 L313.82 143.15 L314.08 141.14 L314.33 139.39 L314.58 138.12 L314.84 137.06 L315.09 136.11 L315.34 135.22 L315.60 134.33 L315.85 133.37 L316.10 132.30 L316.36 131.18 L316.61 130.01 L316.86 128.83 L317.12 127.65 L317.37 126.48 L317.62 125.36 L317.88 124.34 L318.13 123.32 L318.38 122.17 L318.64 120.78 L318.89 119.03 L319.14 116.92 L319.40 114.52 L319.65 111.90 L319.91 114.56 L320.16 116.99 L320.42 119.11 L320.68 120.87 L320.94 122.19 L321.19 123.21 L321.45 124.17 L321.71 125.33 L321.96 126.88 L322.22 128.99 L322.48 132.95 L322.74 141.10 L322.99 151.36 L323.25 169.00 L323.50 155.94 L323.76 146.92 L324.01 139.16 L324.27 130.43 L324.52 126.13 L324.77 123.99 L325.03 122.42 L325.28 120.61 L325.54 118.06 L325.79 115.13 L326.05 111.90 L326.30 108.40 L326.55 109.23 L326.80 110.15 L327.05 111.15 L327.30 112.23 L327.55 113.38 L327.80 114.58 L328.05 115.84 L328.30 117.19 L328.55 118.68 L328.80 120.28 L329.05 121.97 L329.30 123.71 L329.55 125.47 L329.80 127.21 L330.05 128.94 L330.30 130.76 L330.55 132.62 L330.80 134.49 L331.05 136.32 L331.30 138.07 L331.55 139.69 L331.80 141.20 L332.05 142.68 L332.30 144.13 L332.55 145.53 L332.80 146.88 L333.05 148.16 L333.30 149.37 L333.55 150.49 L333.80 151.52 L334.05 152.45 L334.30 153.35 L334.55 154.21 L334.80 155.04 L335.05 155.83 L335.30 156.58 L335.55 157.30 L335.80 157.98 L336.05 158.62 L336.30 159.22 L336.55 159.78 L336.80 160.30 L337.05 160.79 L337.30 161.27 L337.55 161.73 L337.80 162.18 L338.05 162.60 L338.30 163.00 L338.55 163.37 L338.80 163.71 L339.05 164.00 L339.30 164.26 L339.55 164.46 L339.80 164.64 L340.05 164.80 L340.30 164.97 L340.55 165.13 L340.80 165.28 L341.05 165.42 L341.30 165.56 L341.55 165.69 L341.80 165.81 L342.05 165.93 L342.30 166.03 L342.55 166.12 L342.80 166.20 L343.05 166.27 L343.30 166.32 L343.55 166.36 L343.80 166.39 L344.05 166.40 L344.30 166.39 L344.55 166.36 L344.80 166.30 L345.05 166.22 L345.30 166.12 L345.55 166.00 L345.80 165.86 L346.05 165.71 L346.30 165.54 L346.55 165.36 L346.80 165.17 L347.05 164.97 L347.30 164.76 L347.55 164.55 L347.80 164.33 L348.05 164.10 L348.30 163.88 L348.55 163.65 L348.80 163.41 L349.05 163.12 L349.30 162.81 L349.55 162.47 L349.80 162.11 L350.05 161.72 L350.30 161.31 L350.55 160.89 L350.80 160.44 L351.05 159.99 L351.30 159.52 L351.55 159.05 L351.80 158.56 L352.05 158.08 L352.30 157.59 L352.55 157.10 L352.80 156.59 L353.05 156.04 L353.30 155.47 L353.55 154.88 L353.80 154.27 L354.05 153.66 L354.30 153.04 L354.55 152.43 L354.80 151.83 L355.05 151.25 L355.30 150.67 L355.55 150.08 L355.80 149.50" stroke="#a66a2c" stroke-width="1.75" />
<path d="M52.40 166.00 L52.65 165.35 L52.90 164.71 L53.15 164.11 L53.40 163.56 L53.65 163.06 L53.90 162.63 L54.15 162.23 L54.40 161.86 L54.65 161.50 L54.90 161.17 L55.15 160.85 L55.40 160.55 L55.65 160.27 L55.90 160.00 L56.15 159.74 L56.40 159.50 L56.65 159.26 L56.90 159.03 L57.15 158.80 L57.41 158.58 L57.66 158.37 L57.91 158.17 L58.16 157.97 L58.41 157.77 L58.66 157.58 L58.91 157.40 L59.16 157.23 L59.41 157.06 L59.66 156.90 L59.91 156.74 L60.16 156.60 L60.41 156.46 L60.66 156.32 L60.91 156.19 L61.16 156.07 L61.41 155.95 L61.66 155.84 L61.91 155.73 L62.16 155.62 L62.41 155.51 L62.66 155.41 L62.91 155.32 L63.16 155.22 L63.41 155.13 L63.66 155.03 L63.91 154.95 L64.16 154.86 L64.41 154.77 L64.66 154.69 L64.91 154.60 L65.16 154.52 L65.41 154.43 L65.66 154.35 L65.91 154.26 L66.16 154.18 L66.41 154.09 L66.66 154.01 L66.91 153.92 L67.16 153.84 L67.42 153.76 L67.67 153.68 L67.92 153.59 L68.17 153.51 L68.42 153.43 L68.67 153.36 L68.92 153.28 L69.17 153.20 L69.42 153.13 L69.67 153.06 L69.92 152.98 L70.17 152.91 L70.42 152.85 L70.67 152.78 L70.92 152.72 L71.17 152.66 L71.42 152.60 L71.67 152.54 L71.92 152.48 L72.17 152.42 L72.42 152.37 L72.67 152.32 L72.92 152.26 L73.17 152.21 L73.42 152.16 L73.67 152.11 L73.92 152.06 L74.17 152.01 L74.42 151.97 L74.67 151.92 L74.92 151.87 L75.17 151.83 L75.42 151.78 L75.67 151.74 L75.92 151.69 L76.17 151.65 L76.42 151.61 L76.67 151.56 L76.92 151.52 L77.17 151.48 L77.43 151.44 L77.68 151.39 L77.93 151.35 L78.18 151.31 L78.43 151.27 L78.68 151.22 L78.93 151.18 L79.18 151.14 L79.43 151.10 L79.68 151.06 L79.93 151.01 L80.18 150.97 L80.43 150.93 L80.68 150.88 L80.93 150.84 L81.18 150.80 L81.43 150.76 L81.68 150.71 L81.93 150.67 L82.18 150.63 L82.43 150.59 L82.68 150.55 L82.93 150.51 L83.18 150.46 L83.43 150.42 L83.68 150.38 L83.93 150.34 L84.18 150.30 L84.43 150.26 L84.68 150.22 L84.93 150.18 L85.18 150.14 L85.43 150.10 L85.68 150.06 L85.93 150.02 L86.18 149.98 L86.43 149.94 L86.68 149.90 L86.93 149.86 L87.19 149.82 L87.44 149.79 L87.69 149.75 L87.94 149.71 L88.19 149.67 L88.44 149.63 L88.69 149.60 L88.94 149.56 L89.19 149.52 L89.44 149.48 L89.69 149.45 L89.94 149.41 L90.19 149.37 L90.44 149.34 L90.69 149.30 L90.94 149.27 L91.19 149.23 L91.44 149.20 L91.69 149.16 L91.94 149.13 L92.19 149.09 L92.44 149.06 L92.69 149.03 L92.94 148.99 L93.19 148.96 L93.44 148.93 L93.69 148.90 L93.94 148.86 L94.19 148.83 L94.44 148.80 L94.69 148.77 L94.94 148.73 L95.19 148.70 L95.44 148.67 L95.69 148.64 L95.94 148.61 L96.19 148.57 L96.44 148.54 L96.69 148.51 L96.94 148.47 L97.20 148.44 L97.45 148.41 L97.70 148.37 L97.95 148.34 L98.20 148.31 L98.45 148.27 L98.70 148.24 L98.95 148.20 L99.20 148.16 L99.45 148.13 L99.70 148.09 L99.95 148.05 L100.20 148.02 L100.45 147.98 L100.70 147.94 L100.95 147.90 L101.20 147.86 L101.45 147.82 L101.70 147.78 L101.95 147.74 L102.20 147.69 L102.45 147.65 L102.70 147.61 L102.95 147.57 L103.20 147.52 L103.45 147.48 L103.70 147.44 L103.95 147.39 L104.20 147.35 L104.45 147.30 L104.70 147.26 L104.95 147.21 L105.20 147.17 L105.45 147.12 L105.70 147.08 L105.95 147.03 L106.20 146.99 L106.45 146.94 L106.70 146.90 L106.96 146.85 L107.21 146.80 L107.46 146.76 L107.71 146.71 L107.96 146.67 L108.21 146.62 L108.46 146.58 L108.71 146.53 L108.96 146.49 L109.21 146.44 L109.46 146.40 L109.71 146.35 L109.96 146.31 L110.21 146.26 L110.46 146.22 L110.71 146.18 L110.96 146.13 L111.21 146.09 L111.46 146.05 L111.71 146.00 L111.96 145.96 L112.21 145.92 L112.46 145.87 L112.71 145.83 L112.96 145.79 L113.21 145.75 L113.46 145.70 L113.71 145.66 L113.96 145.62 L114.21 145.58 L114.46 145.53 L114.71 145.49 L114.96 145.45 L115.21 145.41 L115.46 145.37 L115.71 145.32 L115.96 145.28 L116.21 145.24 L116.46 145.20 L116.71 145.15 L116.97 145.11 L117.22 145.07 L117.47 145.02 L117.72 144.98 L117.97 144.94 L118.22 144.89 L118.47 144.85 L118.72 144.80 L118.97 144.76 L119.22 144.72 L119.47 144.67 L119.72 144.63 L119.97 144.58 L120.22 144.53 L120.47 144.49 L120.72 144.44 L120.97 144.40 L121.22 144.35 L121.47 144.30 L121.72 144.25 L121.97 144.21 L122.22 144.16 L122.47 144.11 L122.72 144.06 L122.97 144.01 L123.22 143.96 L123.47 143.91 L123.72 143.86 L123.97 143.81 L124.22 143.75 L124.47 143.70 L124.72 143.65 L124.97 143.59 L125.22 143.54 L125.47 143.49 L125.72 143.43 L125.97 143.38 L126.22 143.32 L126.47 143.26 L126.72 143.21 L126.98 143.15 L127.23 143.09 L127.48 143.03 L127.73 142.98 L127.98 142.92 L128.23 142.86 L128.48 142.80 L128.73 142.74 L128.98 142.68 L129.23 142.62 L129.48 142.56 L129.73 142.49 L129.98 142.43 L130.23 142.37 L130.48 142.31 L130.73 142.24 L130.98 142.18 L131.23 142.12 L131.48 142.05 L131.73 141.99 L131.98 141.92 L132.23 141.86 L132.48 141.79 L132.73 141.73 L132.98 141.66 L133.23 141.59 L133.48 141.53 L133.73 141.46 L133.98 141.39 L134.23 141.33 L134.48 141.26 L134.73 141.19 L134.98 141.12 L135.23 141.05 L135.48 140.98 L135.73 140.91 L135.98 140.84 L136.23 140.77 L136.48 140.70 L136.74 140.63 L136.99 140.56 L137.24 140.48 L137.49 140.41 L137.74 140.33 L137.99 140.26 L138.24 140.18 L138.49 140.11 L138.74 140.03 L138.99 139.96 L139.24 139.88 L139.49 139.80 L139.74 139.72 L139.99 139.65 L140.24 139.57 L140.49 139.49 L140.74 139.41 L140.99 139.33 L141.24 139.25 L141.49 139.17 L141.74 139.09 L141.99 139.01 L142.24 138.93 L142.49 138.85 L142.74 138.77 L142.99 138.69 L143.24 138.61 L143.49 138.53 L143.74 138.44 L143.99 138.36 L144.24 138.28 L144.49 138.20 L144.74 138.12 L144.99 138.03 L145.24 137.95 L145.49 137.87 L145.74 137.79 L145.99 137.70 L146.24 137.62 L146.49 137.53 L146.75 137.44 L147.00 137.36 L147.25 137.27 L147.50 137.18 L147.75 137.09 L148.00 137.00 L148.25 136.91 L148.50 136.83 L148.75 136.74 L149.00 136.65 L149.25 136.56 L149.50 136.47 L149.75 136.39 L150.00 136.30 L150.25 136.21 L150.50 136.13 L150.75 136.05 L151.00 135.96 L151.25 135.88 L151.50 135.80 L151.75 135.71 L152.00 135.63 L152.25 135.55 L152.50 135.47 L152.75 135.38 L153.00 135.30 L153.25 135.22 L153.50 135.14 L153.75 135.06 L154.00 134.98 L154.25 134.89 L154.50 134.81 L154.75 134.73 L155.00 134.64 L155.25 134.56 L155.50 134.48 L155.75 134.39 L156.00 134.31 L156.25 134.22 L156.51 134.13 L156.76 134.05 L157.01 133.96 L157.26 133.87 L157.51 133.78 L157.76 133.69 L158.01 133.60 L158.26 133.51 L158.51 133.41 L158.76 133.32 L159.01 133.23 L159.26 133.14 L159.51 133.05 L159.76 132.95 L160.01 132.86 L160.26 132.77 L160.51 132.67 L160.76 132.58 L161.01 132.49 L161.26 132.39 L161.51 132.29 L161.76 132.20 L162.01 132.10 L162.26 132.00 L162.51 131.90 L162.76 131.80 L163.01 131.70 L163.26 131.59 L163.51 131.49 L163.76 131.38 L164.01 131.27 L164.26 131.16 L164.51 131.05 L164.76 130.94 L165.01 130.82 L165.26 130.71 L165.51 130.59 L165.76 130.47 L166.01 130.34 L166.26 130.22 L166.52 130.09 L166.77 129.95 L167.02 129.82 L167.27 129.68 L167.52 129.54 L167.77 129.40 L168.02 129.25 L168.27 129.10 L168.52 128.95 L168.77 128.79 L169.02 128.63 L169.27 128.48 L169.52 128.31 L169.77 128.15 L170.02 127.99 L170.27 127.82 L170.52 127.65 L170.77 127.48 L171.02 127.31 L171.27 127.13 L171.52 126.96 L171.77 126.78 L172.02 126.61 L172.27 126.43 L172.52 126.25 L172.77 126.07 L173.02 125.89 L173.27 125.70 L173.52 125.52 L173.77 125.34 L174.02 125.16 L174.27 124.97 L174.52 124.79 L174.77 124.60 L175.02 124.41 L175.27 124.22 L175.52 124.03 L175.77 123.84 L176.02 123.65 L176.28 123.45 L176.53 123.26 L176.78 123.06 L177.03 122.86 L177.28 122.66 L177.53 122.45 L177.78 122.25 L178.03 122.04 L178.28 121.83 L178.53 121.62 L178.78 121.41 L179.03 121.19 L179.28 120.98 L179.53 120.76 L179.78 120.54 L180.03 120.32 L180.28 120.09 L180.53 119.87 L180.78 119.64 L181.03 119.41 L181.28 119.17 L181.53 118.94 L181.78 118.70 L182.03 118.46 L182.28 118.22 L182.53 117.98 L182.78 117.73 L183.03 117.48 L183.28 117.22 L183.53 116.96 L183.78 116.70 L184.03 116.43 L184.28 116.16 L184.53 115.89 L184.78 115.62 L185.03 115.34 L185.28 115.06 L185.53 114.78 L185.78 114.49 L186.03 114.21 L186.29 113.92 L186.54 113.63 L186.79 113.33 L187.04 113.04 L187.29 112.74 L187.54 112.44 L187.79 112.14 L188.04 111.84 L188.29 111.54 L188.54 111.24 L188.79 110.93 L189.04 110.63 L189.29 110.32 L189.54 110.01 L189.79 109.71 L190.04 109.40 L190.29 109.09 L190.54 108.79 L190.79 108.49 L191.04 108.19 L191.29 107.89 L191.54 107.59 L191.79 107.28 L192.04 106.97 L192.29 106.64 L192.54 106.30 L192.79 105.94 L193.04 105.57 L193.29 105.18 L193.54 104.76 L193.79 104.33 L194.04 103.88 L194.29 103.41 L194.54 102.90 L194.79 102.36 L195.04 101.77 L195.29 101.14 L195.54 100.46 L195.79 99.70 L196.04 98.82 L196.30 97.80 L196.55 96.67 L196.80 95.44 L197.05 94.14 L197.30 92.79 L197.55 91.41 L197.80 90.02 L198.05 88.64 L198.30 87.28 L198.55 85.88 L198.80 84.40 L199.05 82.81 L199.30 81.07 L199.55 79.13 L199.80 76.96 L200.05 74.27 L200.30 70.53 L200.55 66.69 L200.80 63.43 L201.05 60.40 L201.30 63.46 L201.55 66.75 L201.81 70.64 L202.06 74.39 L202.31 77.04 L202.56 79.22 L202.82 81.15 L203.07 82.88 L203.32 84.44 L203.57 85.85 L203.83 87.15 L204.08 88.37 L204.33 89.49 L204.58 90.53 L204.83 91.49 L205.09 92.39 L205.34 93.25 L205.59 94.07 L205.84 94.88 L206.10 95.68 L206.35 96.48 L206.60 97.31 L206.85 98.18 L207.11 99.08 L207.36 100.01 L207.61 100.94 L207.86 101.88 L208.11 102.82 L208.37 103.76 L208.62 104.70 L208.87 105.64 L209.12 106.58 L209.38 107.50 L209.63 108.42 L209.88 109.33 L210.13 110.23 L210.39 111.12 L210.64 112.00 L210.89 112.88 L211.14 113.75 L211.39 114.61 L211.65 115.48 L211.90 116.34 L212.15 117.19 L212.40 118.04 L212.66 118.88 L212.91 119.73 L213.16 120.57 L213.41 121.41 L213.66 122.25 L213.92 123.09 L214.17 123.94 L214.42 124.79 L214.67 125.63 L214.93 126.48 L215.18 127.33 L215.43 128.18 L215.68 129.02 L215.94 129.87 L216.19 130.71 L216.44 131.55 L216.69 132.39 L216.94 133.22 L217.20 134.03 L217.45 134.82 L217.70 135.65 L217.95 136.57 L218.21 137.52 L218.46 138.52 L218.71 139.55 L218.96 140.64 L219.22 141.77 L219.47 142.95 L219.72 144.19 L219.97 145.49 L220.22 146.83 L220.48 148.27 L220.73 149.82 L220.98 151.55 L221.23 153.47 L221.49 155.42 L221.74 157.65 L221.99 160.63 L222.24 164.93 L222.50 174.54 L222.75 191.61 L223.00 209.10 L223.25 191.53 L223.50 176.02 L223.75 168.56 L224.00 164.00 L224.25 160.99 L224.50 158.62 L224.75 156.71 L225.00 155.07 L225.25 153.52 L225.50 151.98 L225.75 150.59 L226.00 149.31 L226.25 148.11 L226.50 146.95 L226.75 145.79 L227.00 144.60 L227.25 143.37 L227.50 142.12 L227.75 140.89 L228.00 139.71 L228.25 138.61 L228.50 137.61 L228.75 136.69 L229.00 135.83 L229.25 135.01 L229.50 134.22 L229.75 133.46 L230.00 132.70 L230.25 131.94 L230.50 131.16 L230.75 130.35 L231.00 129.50 L231.25 128.62 L231.50 127.74 L231.75 126.85 L232.00 125.94 L232.25 125.03 L232.50 124.11 L232.75 123.17 L233.00 122.21 L233.25 121.24 L233.50 120.25 L233.75 119.24 L234.00 118.21 L234.25 117.14 L234.50 116.02 L234.75 114.86 L235.00 113.69 L235.25 112.54 L235.50 111.40 L235.75 110.25 L236.00 109.10 L236.25 107.93 L236.50 106.73 L236.75 105.49 L237.00 104.12 L237.25 102.71 L237.50 101.37 L237.75 100.20 L238.00 99.33 L238.25 98.46 L238.50 97.49 L238.75 96.36 L239.00 95.07 L239.25 93.40 L239.50 90.68 L239.75 86.62 L240.00 84.46 L240.25 83.00 L240.50 81.42 L240.75 79.90 L241.00 81.43 L241.25 83.02 L241.51 84.50 L241.76 86.73 L242.01 90.81 L242.26 93.49 L242.51 95.14 L242.76 96.43 L243.02 97.56 L243.27 98.52 L243.52 99.40 L243.77 100.29 L244.02 101.48 L244.28 102.84 L244.53 104.26 L244.78 105.64 L245.03 106.90 L245.28 108.15 L245.53 109.37 L245.79 110.58 L246.04 111.77 L246.29 112.95 L246.54 114.13 L246.79 115.30 L247.05 116.45 L247.30 117.56 L247.55 118.63 L247.80 119.69 L248.05 120.72 L248.30 121.74 L248.56 122.75 L248.81 123.74 L249.06 124.72 L249.31 125.68 L249.56 126.64 L249.82 127.58 L250.07 128.51 L250.32 129.44 L250.57 130.35 L250.82 131.24 L251.07 132.13 L251.33 133.01 L251.58 133.87 L251.83 134.73 L252.08 135.58 L252.33 136.43 L252.59 137.27 L252.84 138.12 L253.09 138.96 L253.34 139.80 L253.59 140.64 L253.85 141.48 L254.10 142.30 L254.35 143.10 L254.60 143.90 L254.85 144.69 L255.10 145.50 L255.36 146.33 L255.61 147.18 L255.86 148.08 L256.11 149.02 L256.36 149.97 L256.62 150.95 L256.87 151.95 L257.12 152.99 L257.37 154.08 L257.62 155.24 L257.87 156.47 L258.13 157.79 L258.38 159.23 L258.63 160.83 L258.88 162.61 L259.13 164.58 L259.39 166.78 L259.64 169.36 L259.89 172.45 L260.14 176.36 L260.39 181.06 L260.64 186.29 L260.90 192.28 L261.15 199.33 L261.40 207.80 L261.65 199.38 L261.90 192.34 L262.15 186.25 L262.40 181.20 L262.65 177.28 L262.90 173.93 L263.15 170.51 L263.40 167.10 L263.65 164.60 L263.90 162.82 L264.15 161.34 L264.40 160.07 L264.65 158.90 L264.90 157.74 L265.15 156.65 L265.40 155.62 L265.65 154.66 L265.90 153.74 L266.15 152.84 L266.40 151.95 L266.65 151.06 L266.90 150.14 L267.15 149.19 L267.40 148.19 L267.65 147.13 L267.90 146.04 L268.15 144.93 L268.40 143.84 L268.65 142.77 L268.90 141.76 L269.15 140.82 L269.40 139.94 L269.65 139.10 L269.90 138.29 L270.15 137.51 L270.40 136.74 L270.65 135.98 L270.90 135.23 L271.15 134.46 L271.40 133.69 L271.65 132.93 L271.90 132.18 L272.15 131.43 L272.40 130.69 L272.65 129.95 L272.90 129.19 L273.15 128.43 L273.40 127.64 L273.65 126.84 L273.90 126.02 L274.15 125.21 L274.40 124.38 L274.65 123.54 L274.90 122.66 L275.15 121.75 L275.40 120.80 L275.65 119.79 L275.90 118.71 L276.15 117.55 L276.40 116.33 L276.65 115.07 L276.90 113.78 L277.15 112.48 L277.40 111.19 L277.65 109.86 L277.90 108.43 L278.15 106.84 L278.40 104.96 L278.65 102.77 L278.90 100.56 L279.15 98.23 L279.40 95.92 L279.65 94.00 L279.90 92.54 L280.15 91.40 L280.40 92.54 L280.65 94.01 L280.90 95.93 L281.15 98.25 L281.40 100.58 L281.65 102.80 L281.90 104.99 L282.15 106.87 L282.40 108.45 L282.66 109.88 L282.91 111.22 L283.16 112.51 L283.41 113.81 L283.66 115.09 L283.91 116.33 L284.16 117.54 L284.41 118.71 L284.66 119.82 L284.91 120.89 L285.16 121.90 L285.41 122.87 L285.66 123.82 L285.91 124.76 L286.16 125.70 L286.41 126.66 L286.66 127.65 L286.91 128.67 L287.16 129.70 L287.41 130.73 L287.67 131.74 L287.92 132.71 L288.17 133.64 L288.42 134.49 L288.67 135.30 L288.92 136.08 L289.17 136.83 L289.42 137.56 L289.67 138.27 L289.92 138.97 L290.17 139.66 L290.42 140.36 L290.67 141.06 L290.92 141.77 L291.17 142.50 L291.42 143.23 L291.67 143.97 L291.92 144.70 L292.17 145.43 L292.42 146.17 L292.68 146.90 L292.93 147.63 L293.18 148.36 L293.43 149.08 L293.68 149.80 L293.93 150.52 L294.18 151.23 L294.43 151.94 L294.68 152.64 L294.93 153.34 L295.18 154.04 L295.43 154.73 L295.68 155.42 L295.93 156.11 L296.18 156.80 L296.43 157.48 L296.68 158.15 L296.93 158.81 L297.18 159.47 L297.44 160.12 L297.69 160.76 L297.94 161.39 L298.19 161.98 L298.44 162.52 L298.69 163.04 L298.94 163.56 L299.19 164.11 L299.44 164.71 L299.69 165.37 L299.94 166.13 L300.19 167.04 L300.44 168.09 L300.69 169.26 L300.94 170.52 L301.19 171.85 L301.44 173.21 L301.69 174.57 L301.94 175.88 L302.19 177.18 L302.45 178.55 L302.70 180.10 L302.95 181.91 L303.20 184.19 L303.45 187.62 L303.70 191.41 L303.95 194.49 L304.20 197.13 L304.45 200.98 L304.70 208.30 L304.95 202.53 L305.21 198.62 L305.46 196.10 L305.71 193.75 L305.97 190.59 L306.22 186.81 L306.47 183.48 L306.73 181.04 L306.98 178.92 L307.23 177.05 L307.49 175.33 L307.74 173.70 L307.99 172.13 L308.25 170.63 L308.50 169.22 L308.75 167.93 L309.01 166.78 L309.26 165.77 L309.51 164.93 L309.77 164.21 L310.02 163.54 L310.27 162.89 L310.53 162.18 L310.78 161.37 L311.03 160.40 L311.29 159.30 L311.54 158.12 L311.79 156.88 L312.05 155.64 L312.30 154.43 L312.56 153.30 L312.81 152.28 L313.06 151.39 L313.32 150.59 L313.57 149.81 L313.82 149.02 L314.08 148.17 L314.33 147.21 L314.58 146.09 L314.84 144.59 L315.09 142.70 L315.34 140.73 L315.60 139.02 L315.85 137.68 L316.10 136.49 L316.36 135.37 L316.61 134.21 L316.86 132.93 L317.12 131.49 L317.37 129.93 L317.62 128.34 L317.88 126.75 L318.13 125.23 L318.38 123.74 L318.64 122.25 L318.89 120.77 L319.14 119.28 L319.40 117.79 L319.65 116.30 L319.91 117.81 L320.16 119.32 L320.42 120.83 L320.68 122.30 L320.94 123.73 L321.19 125.28 L321.45 127.04 L321.71 129.05 L321.96 131.83 L322.22 136.42 L322.48 141.82 L322.74 148.22 L322.99 155.55 L323.25 172.70 L323.50 159.86 L323.76 153.08 L324.01 147.57 L324.27 142.53 L324.52 137.58 L324.77 132.23 L325.03 127.54 L325.28 123.87 L325.54 120.72 L325.79 117.87 L326.05 115.27 L326.30 113.00 L326.55 113.91 L326.80 114.99 L327.05 116.23 L327.30 117.70 L327.55 119.48 L327.80 121.46 L328.05 123.54 L328.30 125.60 L328.55 127.54 L328.80 129.33 L329.05 131.09 L329.30 132.83 L329.55 134.54 L329.80 136.21 L330.05 137.83 L330.30 139.39 L330.55 140.90 L330.80 142.37 L331.05 143.80 L331.30 145.20 L331.55 146.57 L331.80 147.90 L332.05 149.19 L332.30 150.45 L332.55 151.66 L332.80 152.85 L333.05 154.04 L333.30 155.21 L333.55 156.34 L333.80 157.42 L334.05 158.42 L334.30 159.34 L334.55 160.15 L334.80 160.91 L335.05 161.63 L335.30 162.32 L335.55 162.98 L335.80 163.60 L336.05 164.17 L336.30 164.71 L336.55 165.21 L336.80 165.67 L337.05 166.08 L337.30 166.47 L337.55 166.84 L337.80 167.19 L338.05 167.52 L338.30 167.84 L338.55 168.14 L338.80 168.41 L339.05 168.67 L339.30 168.90 L339.55 169.11 L339.80 169.30 L340.05 169.48 L340.30 169.65 L340.55 169.83 L340.80 170.00 L341.05 170.17 L341.30 170.33 L341.55 170.48 L341.80 170.62 L342.05 170.75 L342.30 170.87 L342.55 170.97 L342.80 171.06 L343.05 171.12 L343.30 171.17 L343.55 171.20 L343.80 171.20 L344.05 171.18 L344.30 171.14 L344.55 171.08 L344.80 171.00 L345.05 170.91 L345.30 170.80 L345.55 170.68 L345.80 170.55 L346.05 170.41 L346.30 170.25 L346.55 170.09 L346.80 169.93 L347.05 169.76 L347.30 169.58 L347.55 169.41 L347.80 169.23 L348.05 169.02 L348.30 168.79 L348.55 168.53 L348.80 168.25 L349.05 167.95 L349.30 167.62 L349.55 167.27 L349.80 166.91 L350.05 166.53 L350.30 166.13 L350.55 165.72 L350.80 165.30 L351.05 164.86 L351.30 164.42 L351.55 163.97 L351.80 163.51 L352.05 163.02 L352.30 162.48 L352.55 161.91 L352.80 161.30 L353.05 160.67 L353.30 160.01 L353.55 159.34 L353.80 158.66 L354.05 157.96 L354.30 157.26 L354.55 156.57 L354.80 155.87 L355.05 155.18 L355.30 154.47 L355.55 153.74 L355.80 153.00" stroke="#800080" stroke-width="1.75" />
</g>
<text transform="translate(118.4,13.3) scale(1.22,1)" font-size="14" font-style="italic" fill="#000">σ</text>
<text x="127.5" y="13.3" font-size="14" fill="#000" >v</text>
<text x="134.9" y="13.3" font-size="14" fill="#000" >(</text>
<text transform="translate(140.6,13.600000000000001) scale(1.32,1.04)" font-size="14" font-style="italic" fill="#000">χ</text>
<path d="M141.6 4.9 H150.8" stroke="#000" stroke-width="0.7" fill="none"/>
<text transform="translate(151.6,13.600000000000001) scale(1.32,1.04)" font-size="14" font-style="italic" fill="#000">χ</text>
<path d="M161.3 10.6 H171.6 M168.6 8.3 Q170 10 172 10.6 Q170 11.2 168.6 12.9" stroke="#000" stroke-width="0.8" fill="none"/>
<text x="172.6" y="13.3" font-size="14" fill="#000" textLength="18.9" lengthAdjust="spacing">VV</text>
<text x="192.1" y="13.3" font-size="14" fill="#000" >)</text>
<text x="202.7" y="13.3" font-size="14" fill="#000" textLength="15.0" lengthAdjust="spacing">for</text>
<text x="223.2" y="13.3" font-size="14" fill="#000" >I</text>
<text x="229.5" y="13.3" font-size="14" fill="#000" >=</text>
<text x="238.5" y="13.3" font-size="14" fill="#000" >2</text>
<text x="250.3" y="13.3" font-size="14" fill="#000" textLength="39" lengthAdjust="spacing">WIMP</text>
<text x="92.4" y="235.9" font-size="14" text-anchor="middle" fill="#000">100</text>
<text x="132.0" y="235.9" font-size="14" text-anchor="middle" fill="#000">200</text>
<text x="184.3" y="235.9" font-size="14" text-anchor="middle" fill="#000">500</text>
<text x="223.9" y="235.9" font-size="14" text-anchor="middle" fill="#000">1000</text>
<text x="263.5" y="235.9" font-size="14" text-anchor="middle" fill="#000">2000</text>
<text x="315.8" y="235.9" font-size="14" text-anchor="middle" fill="#000">5000</text>
<text x="335.7" y="235.9" font-size="14" fill="#000" >1</text>
<text x="344.6" y="236.5" font-size="17.5" fill="#000" >×</text>
<text x="354.8" y="235.9" font-size="14" fill="#000" >1</text>
<text x="360.0" y="235.9" font-size="14" fill="#000" >0</text>
<text x="368.0" y="231.9" font-size="10.5" fill="#000" >4</text>
<text x="20.9" y="71.8" font-size="14" fill="#000" >10</text>
<text x="34.9" y="67.0" font-size="10" fill="#000" >−21</text>
<text x="20.9" y="110.3" font-size="14" fill="#000" >10</text>
<text x="34.9" y="105.5" font-size="10" fill="#000" >−23</text>
<text x="20.9" y="148.8" font-size="14" fill="#000" >10</text>
<text x="34.9" y="144.0" font-size="10" fill="#000" >−25</text>
<text x="20.9" y="187.3" font-size="14" fill="#000" >10</text>
<text x="34.9" y="182.5" font-size="10" fill="#000" >−27</text>
<text x="20.9" y="225.8" font-size="14" fill="#000" >10</text>
<text x="34.9" y="221.0" font-size="10" fill="#000" >−29</text>
<text x="178.2" y="255.1" font-size="14" fill="#000" font-style="italic">m</text>
<text transform="translate(188.4,257.7) scale(1.4,1.1)" font-size="10" font-style="italic" fill="#000">χ</text>
<text x="195.6" y="255.1" font-size="14" fill="#000" textLength="33.8" lengthAdjust="spacing">(GeV)</text>
<text transform="translate(14.5,170.2) rotate(-90)" font-size="14" fill="#000" >&lt;</text>
<text transform="translate(13.8,162.0) rotate(-90) scale(1.22,1)" font-size="14" fill="#000" font-style="italic">σ</text>
<text transform="translate(13.8,153.3) rotate(-90)" font-size="14" fill="#000" >v</text>
<text transform="translate(16.1,145.3) rotate(-90)" font-size="10" fill="#000" >lab</text>
<text transform="translate(14.5,133.2) rotate(-90)" font-size="14" fill="#000" >&gt;</text>
<text transform="translate(13.3,124.9) rotate(-90)" font-size="14" fill="#000" >(</text>
<text transform="translate(14.5,120.2) rotate(-90)" font-size="14" fill="#000" >cm</text>
<text transform="translate(8.1,103.9) rotate(-90)" font-size="10" fill="#000" >3</text>
<text transform="translate(14.5,99.5) rotate(-90)" font-size="14" fill="#000" >/s</text>
<text transform="translate(13.3,89.4) rotate(-90)" font-size="14" fill="#000" >)</text>
<text transform="translate(99.8,88.5) skewX(-7)" font-size="10.8" font-weight="bold" font-style="italic" fill="#0000ff">W</text>
<text x="110.1" y="85.3" font-size="8" font-weight="bold" font-style="normal" fill="#0000ff">+</text>
<text transform="translate(114.9,88.5) skewX(-7)" font-size="10.8" font-weight="bold" font-style="italic" fill="#0000ff">W</text>
<text x="125.4" y="85.0" font-size="7.2" font-weight="bold" font-style="normal" fill="#0000ff">−</text>
<text x="123.7" y="153.5" font-size="10.3" font-weight="bold" font-style="normal" fill="#800080">Z</text>
<text x="130.7" y="150.3" font-size="7" font-weight="bold" font-style="normal" fill="#800080">0</text>
<text transform="translate(134.3,153.5) scale(1.4,1)" font-size="10.4" font-style="italic" fill="#800080" stroke="#800080" stroke-width="0.3">γ</text>
<text x="92.9" y="185.5" font-size="10.3" font-weight="bold" font-style="normal" fill="#a66a2c">Z</text>
<text x="99.7" y="181.8" font-size="7" font-weight="bold" font-style="normal" fill="#a66a2c">0</text>
<text x="104.0" y="185.5" font-size="10.3" font-weight="bold" font-style="normal" fill="#a66a2c">Z</text>
<text x="110.8" y="181.8" font-size="7" font-weight="bold" font-style="normal" fill="#a66a2c">0</text>
<text transform="translate(177.4,150.6) scale(1.33,1)" font-size="10.4" font-style="italic" fill="#1f6b26" stroke="#1f6b26" stroke-width="0.3">γγ</text>
<text transform="translate(286.8,75.8) skewX(-7)" font-size="10.8" font-weight="bold" font-style="italic" fill="#000">W</text>
<text x="297.4" y="72.6" font-size="8" font-weight="bold" font-style="normal" fill="#000">+</text>
<text transform="translate(301.4,75.8) skewX(-7)" font-size="10.8" font-weight="bold" font-style="italic" fill="#000">W</text>
<text x="312.2" y="72.3" font-size="7.2" font-weight="bold" font-style="normal" fill="#000">−</text>
<text x="317.8" y="75.8" font-size="9.7" font-weight="bold" font-style="normal" fill="#000">(data)</text>
</svg>
</body></html>
